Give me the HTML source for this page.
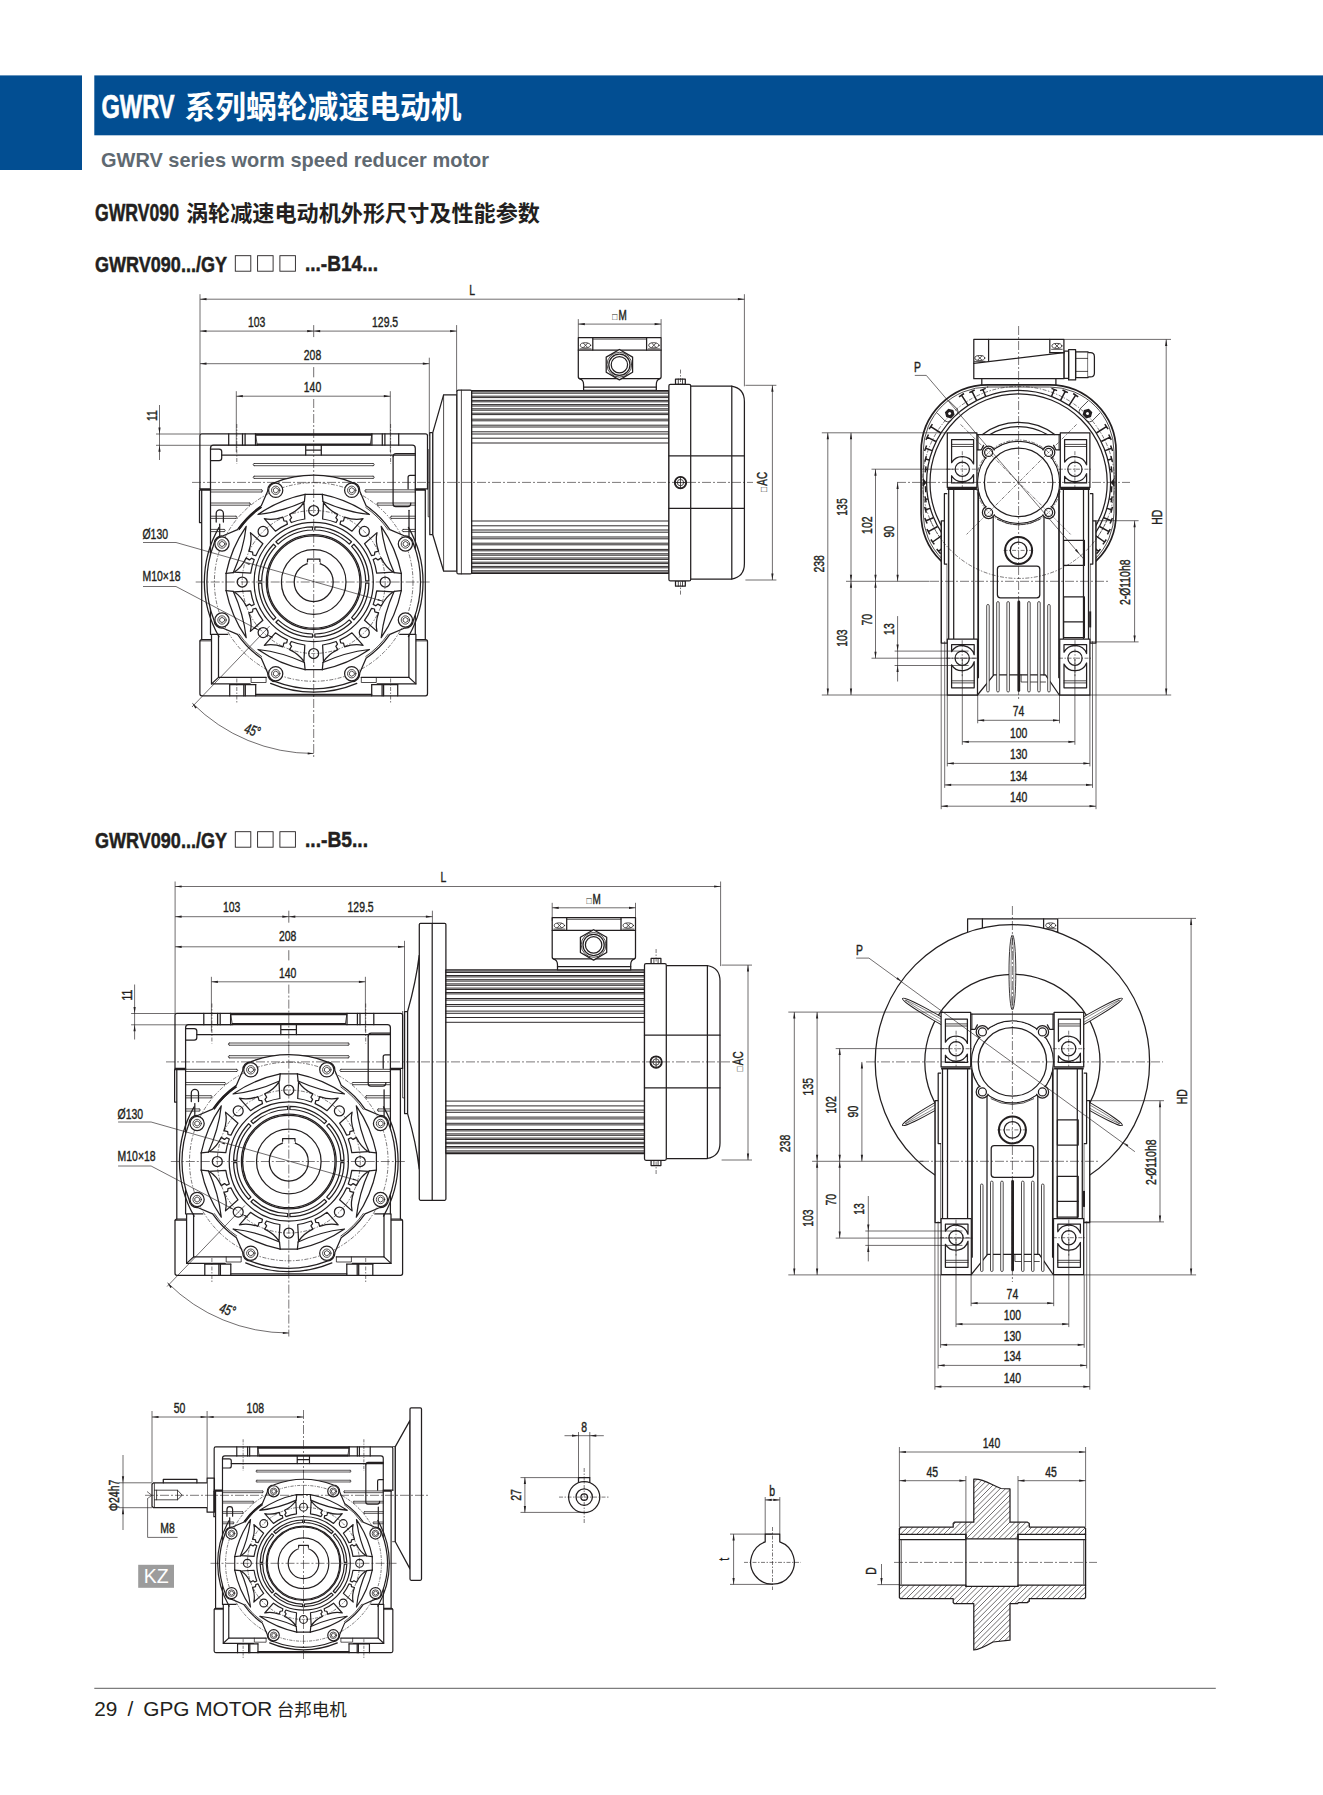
<!DOCTYPE html>
<html lang="zh"><head><meta charset="utf-8"><title>GWRV090</title>
<style>
html,body{margin:0;padding:0;background:#fff}
svg{display:block}
text{font-family:"Liberation Sans","Noto Sans CJK SC",sans-serif;fill:#231f20}
.o{fill:none;stroke:#231f20;stroke-width:1.25;stroke-linecap:round;stroke-linejoin:round}
.t{fill:none;stroke:#231f20;stroke-width:0.8;stroke-linecap:round;stroke-linejoin:round}
.k{fill:none;stroke:#231f20;stroke-width:2;stroke-linecap:butt;stroke-linejoin:round}
.d{fill:none;stroke:#231f20;stroke-width:0.65}
.c{fill:none;stroke:#231f20;stroke-width:0.6;stroke-dasharray:9 2 2 2}
.cs{fill:none;stroke:#231f20;stroke-width:0.6;stroke-dasharray:4 1.5 1.5 1.5}
.w{fill:#fff;stroke:#231f20;stroke-width:1.25;stroke-linejoin:round}
.a{fill:#231f20;stroke:none}
.dt{stroke:#231f20;stroke-width:0.4}
.g3 .o,.g3 .w{stroke-width:1.5}.g3 .t{stroke-width:0.95}.g3 .cs{stroke-width:0.75}.g3 .k{stroke-width:2.4}
</style></head><body>
<svg width="1323" height="1795" viewBox="0 0 1323 1795">

<rect x="0" y="75.4" width="82" height="94.6" fill="#024e92"/>
<rect x="94.3" y="75.4" width="1229" height="59.9" fill="#024e92"/>
<text x="101.5" y="118" font-size="33" font-weight="bold" fill="#fff" style="fill:#fff"><tspan textLength="73" lengthAdjust="spacingAndGlyphs" stroke="#fff" stroke-width="0.7">GWRV</tspan><tspan dx="10" font-size="30.5" textLength="277" lengthAdjust="spacingAndGlyphs">系列蜗轮减速电动机</tspan></text>
<text x="101" y="167" font-size="20.6" font-weight="bold" style="fill:#5f6971" textLength="388" lengthAdjust="spacingAndGlyphs">GWRV series worm speed reducer motor</text>
<text x="95" y="221" font-size="23" font-weight="bold"><tspan textLength="84" lengthAdjust="spacingAndGlyphs" stroke="#231f20" stroke-width="0.5">GWRV090</tspan><tspan dx="7" font-size="22" textLength="354" lengthAdjust="spacingAndGlyphs">涡轮减速电动机外形尺寸及性能参数</tspan></text>
<text x="95" y="271.5" font-size="22.5" font-weight="bold" stroke="#231f20" stroke-width="0.5"><tspan textLength="132" lengthAdjust="spacingAndGlyphs">GWRV090.../GY</tspan></text>
<rect x="235.3" y="255.7" width="15.5" height="15.5" fill="none" stroke="#231f20" stroke-width="0.9"/>
<rect x="257.6" y="255.7" width="15.5" height="15.5" fill="none" stroke="#231f20" stroke-width="0.9"/>
<rect x="279.9" y="255.7" width="15.5" height="15.5" fill="none" stroke="#231f20" stroke-width="0.9"/>
<text x="305" y="271" font-size="22.5" font-weight="bold" stroke="#231f20" stroke-width="0.5"><tspan textLength="73" lengthAdjust="spacingAndGlyphs">...-B14...</tspan></text>
<text x="95" y="847.5" font-size="22.5" font-weight="bold" stroke="#231f20" stroke-width="0.5"><tspan textLength="132" lengthAdjust="spacingAndGlyphs">GWRV090.../GY</tspan></text>
<rect x="235.3" y="831.7" width="15.5" height="15.5" fill="none" stroke="#231f20" stroke-width="0.9"/>
<rect x="257.6" y="831.7" width="15.5" height="15.5" fill="none" stroke="#231f20" stroke-width="0.9"/>
<rect x="279.9" y="831.7" width="15.5" height="15.5" fill="none" stroke="#231f20" stroke-width="0.9"/>
<text x="305" y="847" font-size="22.5" font-weight="bold" stroke="#231f20" stroke-width="0.5"><tspan textLength="63" lengthAdjust="spacingAndGlyphs">...-B5...</tspan></text>
<path class="t" d="M428.2 449.5V516.8H429.6"/><path class="w" d="M429.8 432.6H432.8V534.7H429.8Z"/><path class="w" d="M432.8 432.6L443.6 394.9H456.9V571H443.6L432.8 534.7Z"/><path class="t" d="M443.6 394.9V571"/><rect class="w" x="456.9" y="390.1" width="14.8" height="183.8" rx="1.5"/><path class="t" d="M461.4 390.1V573.9"/><rect class="w" x="471.7" y="390.6" width="197.2" height="182.8"/><path class="t" d="M471.7 391.8H668.9M471.7 572.2H668.9M471.7 393.2H668.9M471.7 570.8H668.9M471.7 396.2H668.9M471.7 567.8H668.9M471.7 397.6H668.9M471.7 566.4H668.9M471.7 400.4H668.9M471.7 563.6H668.9M471.7 401.8H668.9M471.7 562.2H668.9M471.7 404.6H668.9M471.7 559.4H668.9M471.7 406H668.9M471.7 558H668.9M471.7 408.8H668.9M471.7 555.2H668.9M471.7 410.2H668.9M471.7 553.8H668.9M471.7 413.2H668.9M471.7 550.8H668.9M471.7 414.6H668.9M471.7 549.4H668.9M471.7 419.2H668.9M471.7 544.8H668.9M471.7 420.8H668.9M471.7 543.2H668.9M471.7 425.2H668.9M471.7 538.8H668.9M471.7 427H668.9M471.7 537H668.9M471.7 431.8H668.9M471.7 532.2H668.9M471.7 434H668.9M471.7 530H668.9M471.7 438.2H668.9M471.7 525.8H668.9M471.7 443H668.9M471.7 521H668.9" style="stroke-width:0.95"/><path class="w" d="M579.3 378.7Q583.6 379.7 583.6 384.7V390.4H656.3V384.7Q656.3 379.7 660.1 378.7"/><path class="o" d="M583.6 387.2H656.3"/><path class="w" d="M578.3 337.5H661.1V376.7Q661.1 378.7 659.1 378.7H580.3Q578.3 378.7 578.3 376.7Z"/><path class="o" d="M592.8 337.5V350.1H578.3M646.6 337.5V350.1H661.1"/><path class="o" d="M592.8 350.1H646.6"/><path class="t" d="M592.8 339.1H646.6"/><ellipse class="t" cx="585.5" cy="345.3" rx="5.2" ry="2.6"/><path class="t" d="M580 348.9H591"/><path class="t" d="M583.5 343.3L587.5 347.3M587.5 343.3L583.5 347.3"/><ellipse class="t" cx="653.9" cy="345.3" rx="5.2" ry="2.6"/><path class="t" d="M648.4 348.9H659.4"/><path class="t" d="M651.9 343.3L655.9 347.3M655.9 343.3L651.9 347.3"/><path class="w" d="M619.4 349.5L606.2 357.1L606.2 372.3L619.4 379.9L632.6 372.3L632.6 357.1Z"/><circle class="t" cx="619.4" cy="364.7" r="12.4"/><circle class="o" cx="619.4" cy="364.7" r="10.6"/><circle class="o" cx="619.4" cy="364.7" r="8.2"/><rect class="w" x="675.5" y="379" width="9.8" height="5.3"/><path class="t" d="M678.3 384.3V379M682.5 384.3V379"/><rect class="w" x="675.5" y="580.9" width="9.8" height="5.3"/><path class="t" d="M678.3 580.9V586.2M682.5 580.9V586.2"/><path class="cs" d="M680.5 369.6V595.6"/><path class="w" d="M690.7 386.1H731.4Q744.4 388.1 744.4 401.6V563.6Q744.4 577.1 731.4 579.1H690.7"/><path class="o" d="M731.8 386.1V579.1"/><rect class="w" x="668.9" y="384.3" width="21.8" height="196.6" rx="1.5"/><path class="o" d="M668.9 455.8H744.4"/><path class="o" d="M668.9 508.4H744.4"/><circle class="w" cx="680.5" cy="482.6" r="6"/><circle class="o" cx="680.5" cy="482.6" r="5.4"/><circle class="t" cx="680.5" cy="482.6" r="3.2"/><path class="t" d="M675.5 482.6H685.5M680.5 477.6V487.6"/><g transform="translate(313.7 582)"><path class="o" d="M-113.8 -93.2V-146.2Q-113.8 -148.2 -111.8 -148.2H111.8Q113.8 -148.2 113.8 -146.2V-93.2"/><path class="o" d="M-103.2 52.4V-133.8Q-103.2 -136.8 -100.2 -136.8H98.6Q101.6 -136.8 101.6 -133.8V52.4"/><path class="o" d="M-113.8 -93.2H-103.2M-113.8 -91.8H-103.2M101.6 -93.2H113.8M101.6 -91.8H111.6"/><path class="o" d="M-114.2 -91.8V-59.4H-112M-112 -91.8V57.5"/><path class="o" d="M111.6 -91.8V57.5"/><path class="o" d="M-85 -148.2V-136.8"/><path class="o" d="M-71.2 -148.2V-136.8"/><path class="o" d="M-68.6 -148.2V-136.8"/><path class="o" d="M-58.2 -148.2V-136.8"/><path class="cs" d="M-76.9 -158V-118"/><path class="o" d="M85 -148.2V-136.8"/><path class="o" d="M71.2 -148.2V-136.8"/><path class="o" d="M68.6 -148.2V-136.8"/><path class="o" d="M58.2 -148.2V-136.8"/><path class="cs" d="M76.9 -158V-118"/><path class="k" d="M-58.2 -147.2H58.2M-57 -137.4H57"/><path class="t" d="M-58.2 -148.2L-56.5 -137M58.2 -148.2L56.5 -137"/><path class="o" d="M-103.2 -133H-94.6Q-92 -133 -92 -130.4V-124Q-92 -121.4 -94.6 -121.4H-103.2"/><path class="o" d="M-8 -136.8V-127M7.6 -136.8V-127M-8 -132H7.6"/><path class="o" d="M-92 -127H101.6"/><path class="o" d="M79.4 -125.5V-78Q79.4 -75.4 82 -75.4H94Q97.1 -75.4 97.1 -79"/><path class="o" d="M79.4 -125.5Q79.4 -128.5 82.4 -128.5H101.6"/><path class="o" d="M101.6 -106.7H96.4Q94.4 -106.7 94.4 -104.7V-93.2"/><path class="o" d="M95.3 -71.7V40"/><path class="o" d="M-97.5 -60V-68.5A3.6 3.6 0 0 1 -90.3 -68.5V-60"/><path class="o" d="M-94 -58V-45"/><path class="t" d="M0 -118.5H59.4 M0 -116.3H59.4"/><path class="t" d="M59.4 -118.5A1.1 1.1 0 0 1 59.4 -116.3"/><path class="t" d="M0 -118.5H-59.4 M0 -116.3H-59.4"/><path class="t" d="M-59.4 -118.5A1.1 1.1 0 0 0 -59.4 -116.3"/><path class="t" d="M0 -105.8H59.4 M0 -103.6H59.4"/><path class="t" d="M59.4 -105.8A1.1 1.1 0 0 1 59.4 -103.6"/><path class="t" d="M0 -105.8H-59.4 M0 -103.6H-59.4"/><path class="t" d="M-59.4 -105.8A1.1 1.1 0 0 0 -59.4 -103.6"/><path class="t" d="M-103.2 -92.2H-52.2 M-103.2 -90H-52.2"/><path class="t" d="M-52.2 -92.2A1.1 1.1 0 0 1 -52.2 -90"/><path class="t" d="M101.6 -92.2H52.2 M101.6 -90H52.2"/><path class="t" d="M52.2 -92.2A1.1 1.1 0 0 0 52.2 -90"/><path class="t" d="M-103.2 -79H-64.2 M-103.2 -76.8H-64.2"/><path class="t" d="M-64.2 -79A1.1 1.1 0 0 1 -64.2 -76.8"/><path class="t" d="M101.6 -79H64.2 M101.6 -76.8H64.2"/><path class="t" d="M64.2 -79A1.1 1.1 0 0 0 64.2 -76.8"/><path class="t" d="M-103.2 -65.8H-77.8 M-103.2 -63.6H-77.8"/><path class="t" d="M-77.8 -65.8A1.1 1.1 0 0 1 -77.8 -63.6"/><path class="t" d="M101.6 -65.8H77.8 M101.6 -63.6H77.8"/><path class="t" d="M77.8 -65.8A1.1 1.1 0 0 0 77.8 -63.6"/><path class="t" d="M-103.2 -52.6H-89.6 M-103.2 -50.4H-89.6"/><path class="t" d="M-89.6 -52.6A1.1 1.1 0 0 1 -89.6 -50.4"/><path class="t" d="M101.6 -52.6H89.6 M101.6 -50.4H89.6"/><path class="t" d="M89.6 -52.6A1.1 1.1 0 0 0 89.6 -50.4"/><path class="o" d="M-102.5 57.5H-111.8Q-113.8 57.5 -113.8 59.5V111.8Q-113.8 113.8 -111.8 113.8H0"/><path class="t" d="M-102.5 58.9H-113.8"/><path class="o" d="M-86 52.4H-102.2V101.9H-63.5"/><path class="o" d="M-95.2 52.4V95.4H-47.6"/><path class="o" d="M-95.2 95.4L-102.2 101.9"/><path class="t" d="M-47.6 95.4V100.5H-62.6V95.4"/><path class="o" d="M-58 102.6V113.8"/><path class="o" d="M-68.4 102.6V113.8"/><path class="o" d="M-69.9 102.6V113.8"/><path class="o" d="M-84 102.6V113.8"/><path class="o" d="M-58 102.6H-84"/><path class="cs" d="M-76.9 96.5V121.5"/><path class="o" d="M102.5 57.5H111.8Q113.8 57.5 113.8 59.5V111.8Q113.8 113.8 111.8 113.8H0"/><path class="t" d="M102.5 58.9H113.8"/><path class="o" d="M86 52.4H102.2V101.9H63.5"/><path class="o" d="M95.2 52.4V95.4H47.6"/><path class="o" d="M95.2 95.4L102.2 101.9"/><path class="t" d="M47.6 95.4V100.5H62.6V95.4"/><path class="o" d="M58 102.6V113.8"/><path class="o" d="M68.4 102.6V113.8"/><path class="o" d="M69.9 102.6V113.8"/><path class="o" d="M84 102.6V113.8"/><path class="o" d="M58 102.6H84"/><path class="cs" d="M76.9 96.5V121.5"/><path class="o" d="M-58 112.4H58"/><path class="o" d="M-94.7 -54.6A109.3 109.3 0 0 0 -94.7 54.7"/><path class="o" d="M94.7 54.6A109.3 109.3 0 0 0 94.7 -54.6"/><path class="o" d="M-43.1 101.4A110.2 110.2 0 0 0 43.1 101.4"/><path class="w" d="M76.2 52.4L91.1 46A8 8 0 0 0 99.7 38.3A106.6 106.6 0 0 0 99.7 -38.3A8 8 0 0 0 91.1 -46L76.2 -52.4A92.5 92.5 0 0 0 52.4 -76.2L46 -91.1A8 8 0 0 0 38.3 -99.7A106.6 106.6 0 0 0 -38.3 -99.7A8 8 0 0 0 -46 -91.1L-52.4 -76.2A92.5 92.5 0 0 0 -76.2 -52.4L-91.1 -46A8 8 0 0 0 -99.7 -38.3A106.6 106.6 0 0 0 -99.7 38.3A8 8 0 0 0 -91.1 46L-76.2 52.4A92.5 92.5 0 0 0 -52.4 76.2L-46 91.1A8 8 0 0 0 -38.3 99.7A106.6 106.6 0 0 0 38.3 99.7A8 8 0 0 0 46 91.1L52.4 76.2A92.5 92.5 0 0 0 76.2 52.4Z"/><path class="t" d="M74.5 -52.1A90.9 90.9 0 0 0 52.1 -74.5"/><path class="t" d="M-52.1 -74.5A90.9 90.9 0 0 0 -74.5 -52.1"/><path class="t" d="M-74.5 52.1A90.9 90.9 0 0 0 -52.1 74.5"/><path class="t" d="M52.1 74.5A90.9 90.9 0 0 0 74.5 52.1"/><path class="k" d="M-52.6 -75.1A91.7 91.7 0 0 0 -75.1 -52.6"/><circle class="cs" cx="0" cy="0" r="99.3"/><circle class="w" cx="91.7" cy="-38" r="7.1"/><circle class="t" cx="91.7" cy="-38" r="4.2"/><path class="t" d="M94 -39.3L91.7 -40.6L89.5 -39.3L89.5 -36.7L91.7 -35.4L94 -36.7Z"/><circle class="w" cx="38" cy="-91.7" r="7.1"/><circle class="t" cx="38" cy="-91.7" r="4.2"/><path class="t" d="M40.3 -93L38 -94.3L35.7 -93L35.7 -90.4L38 -89.1L40.3 -90.4Z"/><circle class="w" cx="-38" cy="-91.7" r="7.1"/><circle class="t" cx="-38" cy="-91.7" r="4.2"/><path class="t" d="M-35.7 -93L-38 -94.3L-40.3 -93L-40.3 -90.4L-38 -89.1L-35.7 -90.4Z"/><circle class="w" cx="-91.7" cy="-38" r="7.1"/><circle class="t" cx="-91.7" cy="-38" r="4.2"/><path class="t" d="M-89.5 -39.3L-91.7 -40.6L-94 -39.3L-94 -36.7L-91.7 -35.4L-89.5 -36.7Z"/><circle class="w" cx="-91.7" cy="38" r="7.1"/><circle class="t" cx="-91.7" cy="38" r="4.2"/><path class="t" d="M-89.5 36.7L-91.7 35.4L-94 36.7L-94 39.3L-91.7 40.6L-89.5 39.3Z"/><circle class="w" cx="-38" cy="91.7" r="7.1"/><circle class="t" cx="-38" cy="91.7" r="4.2"/><path class="t" d="M-35.7 90.4L-38 89.1L-40.3 90.4L-40.3 93L-38 94.3L-35.7 93Z"/><circle class="w" cx="38" cy="91.7" r="7.1"/><circle class="t" cx="38" cy="91.7" r="4.2"/><path class="t" d="M40.3 90.4L38 89.1L35.7 90.4L35.7 93L38 94.3L40.3 93Z"/><circle class="w" cx="91.7" cy="38" r="7.1"/><circle class="t" cx="91.7" cy="38" r="4.2"/><path class="t" d="M94 36.7L91.7 35.4L89.5 36.7L89.5 39.3L91.7 40.6L94 39.3Z"/><circle class="o" cx="0" cy="0" r="19.5"/><path class="w" d="M-6.2 -18.5V-22.8H6.2V-18.5"/><path class="" d="M-6.1 -18.6A19.5 19.5 0 0 1 6.1 -18.6" style="stroke:#fff;stroke-width:2.4;fill:none"/><circle class="o" cx="0" cy="0" r="32.3"/><circle class="o" cx="0" cy="0" r="46.2"/><circle class="o" cx="0" cy="0" r="47.4"/><circle class="o" cx="0" cy="0" r="59.6"/><path class="o" d="M52 -1.1A52 52 0 0 0 37.9 -35.6L40.2 -37.8A55.2 55.2 0 0 1 55.2 -1.2Z"/><path class="o" d="M35.6 -37.9A52 52 0 0 0 1.1 -52L1.2 -55.2A55.2 55.2 0 0 1 37.8 -40.2Z"/><path class="o" d="M-1.1 -52A52 52 0 0 0 -35.6 -37.9L-37.8 -40.2A55.2 55.2 0 0 1 -1.2 -55.2Z"/><path class="o" d="M-37.9 -35.6A52 52 0 0 0 -52 -1.1L-55.2 -1.2A55.2 55.2 0 0 1 -40.2 -37.8Z"/><path class="o" d="M-52 1.1A52 52 0 0 0 -37.9 35.6L-40.2 37.8A55.2 55.2 0 0 1 -55.2 1.2Z"/><path class="o" d="M-35.6 37.9A52 52 0 0 0 -1.1 52L-1.2 55.2A55.2 55.2 0 0 1 -37.8 40.2Z"/><path class="o" d="M1.1 52A52 52 0 0 0 35.6 37.9L37.8 40.2A55.2 55.2 0 0 1 1.2 55.2Z"/><path class="o" d="M37.9 35.6A52 52 0 0 0 52 1.1L55.2 1.2A55.2 55.2 0 0 1 40.2 37.8Z"/><circle class="o" cx="71.5" cy="0" r="5"/><circle class="o" cx="50.6" cy="-50.6" r="5"/><circle class="o" cx="0" cy="-71.5" r="5"/><circle class="o" cx="-50.6" cy="-50.6" r="5"/><circle class="o" cx="-71.5" cy="0" r="5"/><circle class="o" cx="-50.6" cy="50.6" r="5"/><circle class="o" cx="0" cy="71.5" r="5"/><circle class="o" cx="50.6" cy="50.6" r="5"/><path class="o" d="M79.7 -9.8Q72 -14.7 67.6 -24.1L64.3 -22.1L62.1 -23.8L59.5 -22.4A63.6 63.6 0 0 1 63 -8.9Z"/><path class="o" d="M79.7 9.8Q72 14.7 67.6 24.1L64.3 22.1L62.1 23.8L59.5 22.4A63.6 63.6 0 0 0 63 8.9Z"/><path class="o" d="M49.4 -63.3Q40.6 -61.3 30.8 -64.9L29.8 -61.1L27 -60.8L26.3 -57.9A63.6 63.6 0 0 1 38.3 -50.8Z"/><path class="o" d="M63.3 -49.4Q61.3 -40.6 64.9 -30.8L61.1 -29.8L60.8 -27L57.9 -26.3A63.6 63.6 0 0 0 50.8 -38.3Z"/><path class="o" d="M-9.8 -79.7Q-14.7 -72 -24.1 -67.6L-22.1 -64.3L-23.8 -62.1L-22.4 -59.5A63.6 63.6 0 0 1 -8.9 -63Z"/><path class="o" d="M9.8 -79.7Q14.7 -72 24.1 -67.6L22.1 -64.3L23.8 -62.1L22.4 -59.5A63.6 63.6 0 0 0 8.9 -63Z"/><path class="o" d="M-63.3 -49.4Q-61.3 -40.6 -64.9 -30.8L-61.1 -29.8L-60.8 -27L-57.9 -26.3A63.6 63.6 0 0 1 -50.8 -38.3Z"/><path class="o" d="M-49.4 -63.3Q-40.6 -61.3 -30.8 -64.9L-29.8 -61.1L-27 -60.8L-26.3 -57.9A63.6 63.6 0 0 0 -38.3 -50.8Z"/><path class="o" d="M-79.7 9.8Q-72 14.7 -67.6 24.1L-64.3 22.1L-62.1 23.8L-59.5 22.4A63.6 63.6 0 0 1 -63 8.9Z"/><path class="o" d="M-79.7 -9.8Q-72 -14.7 -67.6 -24.1L-64.3 -22.1L-62.1 -23.8L-59.5 -22.4A63.6 63.6 0 0 0 -63 -8.9Z"/><path class="o" d="M-49.4 63.3Q-40.6 61.3 -30.8 64.9L-29.8 61.1L-27 60.8L-26.3 57.9A63.6 63.6 0 0 1 -38.3 50.8Z"/><path class="o" d="M-63.3 49.4Q-61.3 40.6 -64.9 30.8L-61.1 29.8L-60.8 27L-57.9 26.3A63.6 63.6 0 0 0 -50.8 38.3Z"/><path class="o" d="M9.8 79.7Q14.7 72 24.1 67.6L22.1 64.3L23.8 62.1L22.4 59.5A63.6 63.6 0 0 1 8.9 63Z"/><path class="o" d="M-9.8 79.7Q-14.7 72 -24.1 67.6L-22.1 64.3L-23.8 62.1L-22.4 59.5A63.6 63.6 0 0 0 -8.9 63Z"/><path class="o" d="M63.3 49.4Q61.3 40.6 64.9 30.8L61.1 29.8L60.8 27L57.9 26.3A63.6 63.6 0 0 1 50.8 38.3Z"/><path class="o" d="M49.4 63.3Q40.6 61.3 30.8 64.9L29.8 61.1L27 60.8L26.3 57.9A63.6 63.6 0 0 0 38.3 50.8Z"/><path class="o" d="M87.6 -8.6L87.6 8.6"/><path class="o" d="M87.6 -8.6L80.5 -9.3"/><path class="o" d="M87.6 -8.6Q82.4 -34.1 67.5 -55.7Q70.3 -31.3 80.5 -9.3"/><path class="o" d="M87.6 8.6L80.5 9.3"/><path class="o" d="M87.6 8.6Q82.4 34.1 67.5 55.7Q70.3 31.3 80.5 9.3"/><path class="o" d="M-8.6 -87.6L8.6 -87.6"/><path class="o" d="M-8.6 -87.6L-9.3 -80.5"/><path class="o" d="M-8.6 -87.6Q-34.1 -82.4 -55.7 -67.5Q-31.3 -70.3 -9.3 -80.5"/><path class="o" d="M8.6 -87.6L9.3 -80.5"/><path class="o" d="M8.6 -87.6Q34.1 -82.4 55.7 -67.5Q31.3 -70.3 9.3 -80.5"/><path class="o" d="M-87.6 8.6L-87.6 -8.6"/><path class="o" d="M-87.6 8.6L-80.5 9.3"/><path class="o" d="M-87.6 8.6Q-82.4 34.1 -67.5 55.7Q-70.3 31.3 -80.5 9.3"/><path class="o" d="M-87.6 -8.6L-80.5 -9.3"/><path class="o" d="M-87.6 -8.6Q-82.4 -34.1 -67.5 -55.7Q-70.3 -31.3 -80.5 -9.3"/><path class="o" d="M8.6 87.6L-8.6 87.6"/><path class="o" d="M8.6 87.6L9.3 80.5"/><path class="o" d="M8.6 87.6Q34.1 82.4 55.7 67.5Q31.3 70.3 9.3 80.5"/><path class="o" d="M-8.6 87.6L-9.3 80.5"/><path class="o" d="M-8.6 87.6Q-34.1 82.4 -55.7 67.5Q-31.3 70.3 -9.3 80.5"/><circle class="cs" cx="0" cy="0" r="71.5"/></g><path class="c" d="M192 482.4H753"/><path class="c" d="M195.7 582H431.7"/><path class="c" d="M313.7 399V757"/><path class="d" d="M313.7 367.1V377.3"/><path class="d" d="M200 294.2V434"/><path class="d" d="M744.4 294.2V386.3"/><path class="d" d="M200 299.2H744.4"/><path class="a" d="M200 299.2L206.5 298.1L206.5 300.3Z"/><path class="a" d="M744.4 299.2L737.9 300.3L737.9 298.1Z"/><text class="dt" transform="translate(472.2 294.5) scale(0.72 1)" font-size="14.5" text-anchor="middle">L</text><path class="d" d="M200 331.1H313.7"/><path class="a" d="M200 331.1L206.5 330L206.5 332.2Z"/><path class="a" d="M313.7 331.1L307.2 332.2L307.2 330Z"/><text class="dt" transform="translate(256.6 326.7) scale(0.72 1)" font-size="14.5" text-anchor="middle">103</text><path class="d" d="M313.7 331.1H456.6"/><path class="a" d="M313.7 331.1L320.2 330L320.2 332.2Z"/><path class="a" d="M456.6 331.1L450.1 332.2L450.1 330Z"/><text class="dt" transform="translate(385.1 326.7) scale(0.72 1)" font-size="14.5" text-anchor="middle">129.5</text><path class="d" d="M313.7 325.1V337.1"/><path class="d" d="M456.6 325.1V392"/><path class="d" d="M200 363.7H429.3"/><path class="a" d="M200 363.7L206.5 362.6L206.5 364.8Z"/><path class="a" d="M429.3 363.7L422.8 364.8L422.8 362.6Z"/><text class="dt" transform="translate(312.5 360.4) scale(0.72 1)" font-size="14.5" text-anchor="middle">208</text><path class="d" d="M429.3 357.7V436"/><path class="d" d="M236.3 396.2H390.3"/><path class="a" d="M236.3 396.2L242.8 395.1L242.8 397.3Z"/><path class="a" d="M390.3 396.2L383.8 397.3L383.8 395.1Z"/><text class="dt" transform="translate(312.5 392) scale(0.72 1)" font-size="14.5" text-anchor="middle">140</text><path class="d" d="M236.3 391.2V452"/><path class="d" d="M390.3 391.2V452"/><path class="d" d="M159.5 405V460"/><path class="a" d="M159.5 434L158.4 427.5L160.6 427.5Z"/><path class="a" d="M159.5 445.3L160.6 451.8L158.4 451.8Z"/><path class="d" d="M156 434H200"/><path class="d" d="M156 445.3H258"/><text class="dt" transform="translate(156.5 415.5) rotate(-90) scale(0.72 1)" font-size="14.5" text-anchor="middle">11</text><path class="d" d="M578.3 324.1H661.1"/><path class="a" d="M578.3 324.1L584.8 323L584.8 325.2Z"/><path class="a" d="M661.1 324.1L654.6 325.2L654.6 323Z"/><path class="d" d="M578.3 319.1V337.1"/><path class="d" d="M661.1 319.1V337.1"/><g transform="translate(619.4 319.8)"><text x="-8" y="0" font-size="9.5" transform="scale(0.9 1.08)">□</text><text class="dt" transform="translate(-1 0) scale(0.72 1)" font-size="13.8">M</text></g><path class="d" d="M772.4 385.3V580"/><path class="a" d="M772.4 385.3L773.5 391.8L771.3 391.8Z"/><path class="a" d="M772.4 580L771.3 573.5L773.5 573.5Z"/><path class="d" d="M745.4 385.3H776.4"/><path class="d" d="M745.4 580H776.4"/><g transform="translate(767.4 481.9) rotate(-90)"><text x="-11.1" y="0" font-size="9.5" transform="scale(0.9 1.08)">□</text><text class="dt" transform="translate(-3.8 0) scale(0.72 1)" font-size="13.8">AC</text></g><text class="dt" transform="translate(142.5 539) scale(0.72 1)" font-size="14.5" text-anchor="start">Ø130</text><path class="d" d="M143 542.5H176L382.6 601.1"/><path class="a" d="M382.6 601.1L377.5 600.6L378 598.9Z"/><path class="a" d="M244.8 562.9L249.9 563.4L249.4 565.1Z"/><text class="dt" transform="translate(142.5 581) scale(0.72 1)" font-size="14.5" text-anchor="start">M10×18</text><path class="d" d="M143 586.5H176L258.6 630"/><path class="a" d="M258.6 630L253.8 628.4L254.6 626.9Z"/><path class="a" d="M267.6 635L272.4 636.6L271.6 638.1Z"/><path class="d" d="M267.6 635L273 638"/><path class="d" d="M269.7 626L192 707"/><path class="d" d="M192.4 703.3A171.5 171.5 0 0 0 313.7 753.5"/><path class="a" d="M313.7 753.5L307.7 754.5L307.7 752.5Z"/><path class="a" d="M192.4 703.3L196.9 707.4L195.3 708.6Z"/><text class="dt" transform="translate(251 735) rotate(17) scale(0.72 1)" font-size="14.5" text-anchor="middle" font-style="italic">45°</text><g transform="translate(1018.6 482.4)"><path class="w" d="M-36.8 -103.7V-96Q-36.8 -92 -33 -92H33Q37.3 -92 37.3 -96V-103.7"/><path class="t" d="M-36.8 -95.7H37.3"/><rect class="w" x="57" y="-130.5" width="12.5" height="25.7"/><path class="t" d="M57 -124H69.5"/><path class="t" d="M57 -111H69.5"/><rect class="w" x="50" y="-132.7" width="7" height="30.2"/><rect class="w" x="45.3" y="-131.2" width="4.7" height="27.2"/><path class="w" d="M69.5 -129.7H71.8Q75.8 -129.7 75.8 -125.7V-109.5Q75.8 -105.5 71.8 -105.5H69.5"/><rect class="w" x="-44.8" y="-143" width="90.1" height="39.3"/><path class="o" d="M-30 -143V-121.8"/><path class="o" d="M31.2 -143V-129.7"/><path class="o" d="M31.2 -129.7H45.3"/><path class="o" d="M-44.8 -119.1L45.3 -129.7"/><ellipse class="t" cx="-38.8" cy="-124.4" rx="5" ry="2.5"/><path class="t" d="M-44.1 -121H-33.5"/><path class="t" d="M-40.8 -126.4L-36.8 -122.4M-36.8 -126.4L-40.8 -122.4"/><ellipse class="t" cx="38.3" cy="-136.5" rx="5" ry="2.5"/><path class="t" d="M33 -133.1H43.6"/><path class="t" d="M36.3 -138.5L40.3 -134.5M40.3 -138.5L36.3 -134.5"/><path class="w" d="M-31 -97.5H31A66.5 66.5 0 0 1 97.5 -31V31A66.5 66.5 0 0 1 31 97.5H-31A66.5 66.5 0 0 1 -97.5 31V-31A66.5 66.5 0 0 1 -31 -97.5Z" style="stroke-width:1.7"/><path class="t" d="M-30.9 -95.4H30.9A64.5 64.5 0 0 1 95.4 -30.9V30.9A64.5 64.5 0 0 1 30.9 95.4H-30.9A64.5 64.5 0 0 1 -95.4 30.9V-30.9A64.5 64.5 0 0 1 -30.9 -95.4Z"/><circle class="o" cx="0" cy="0" r="92"/><circle class="o" cx="0" cy="0" r="88.6"/><path class="o" d="M-38.5 -91.8L-32.9 -94M-35.7 -92.9L-33 -86.1M32.9 -94L38.5 -91.8M35.7 -92.9L33 -86.1M-49.3 -89.7L-43.9 -92.4M-46.6 -91L-42 -82.1M43.9 -92.4L49.3 -89.7M46.6 -91L42 -82.1M-59.6 -85.6L-54.6 -88.9M-57.1 -87.2L-50.5 -77.1M54.6 -88.9L59.6 -85.6M57.1 -87.2L50.5 -77.1M-89.5 -53.2L-86.2 -58.3M-87.8 -55.7L-77.8 -49.4M86.2 -58.3L89.5 -53.2M87.8 -55.7L77.8 -49.4M-92.7 -42.5L-90.1 -47.9M-91.4 -45.2L-82.7 -40.9M90.1 -47.9L92.7 -42.5M91.4 -45.2L82.7 -40.9M-94 -31.4L-92 -37M-93 -34.2L-86.5 -31.8M92 -37L94 -31.4M93 -34.2L86.5 -31.8M-93.8 -20.5L-92.3 -26.3M-93.1 -23.4L-89.4 -22.5M92.3 -26.3L93.8 -20.5M93.1 -23.4L89.4 -22.5M-93.4 -10.1L-92.6 -16M-93 -13.1L-91.3 -12.8M92.6 -16L93.4 -10.1M93 -13.1L91.3 -12.8M-92.8 9.8L-93.2 3.8M-93 6.8L-92 6.8M93.2 3.8L92.8 9.8M93 6.8L92 6.8M-92.5 19.9L-93.6 14M-93 16.9L-90.7 16.5M93.6 14L92.5 19.9M93 16.9L90.7 16.5M-92.3 30.3L-93.9 24.5M-93.1 27.4L-88.4 26M93.9 24.5L92.3 30.3M93.1 27.4L88.4 26M-91.5 41.1L-93.8 35.6M-92.6 38.4L-85.2 35.3M93.8 35.6L91.5 41.1M92.6 38.4L85.2 35.3M-88.8 51.9L-91.7 46.6M-90.3 49.2L-81 44.1M91.7 46.6L88.8 51.9M90.3 49.2L81 44.1M-84.3 62L-87.7 57.1M-86 59.6L-75.8 52.5M87.7 57.1L84.3 62M86 59.6L75.8 52.5M-78 71.3L-81.9 66.7M-79.9 69L-69.8 60.2M81.9 66.7L78 71.3M79.9 69L69.8 60.2" style="stroke-width:1.5;stroke-linecap:butt"/><path class="t" d="M81.2 -69.2L73.5 -61.4Q71 -59 67.6 -61.9M69.2 -81.2L61.4 -73.5Q59 -71 61.9 -67.6"/><path d="M70.2 -73.7L65.3 -72.4L64 -67.6L67.6 -64L72.4 -65.3L73.7 -70.2Z" fill="#231f20"/><circle fill="#fff" cx="68.9" cy="-68.9" r="1.5"/><path class="t" d="M-69.2 -81.2L-61.4 -73.5Q-59 -71 -61.9 -67.6M-81.2 -69.2L-73.5 -61.4Q-71 -59 -67.6 -61.9"/><path d="M-73.7 -70.2L-72.4 -65.3L-67.6 -64L-64 -67.6L-65.3 -72.4L-70.2 -73.7Z" fill="#231f20"/><circle fill="#fff" cx="-68.9" cy="-68.9" r="1.5"/><path d="M-95.6 -4.5L-92 0L-95.6 4.5Z" fill="#231f20"/><path d="M95.6 -4.5L92 0L95.6 4.5Z" fill="#231f20"/><circle class="cs" cx="0" cy="0" r="96"/><rect class="w" x="-77.3" y="38.6" width="6" height="122"/><rect class="w" x="-74.2" y="11.3" width="3.8" height="70.3"/><rect class="w" x="71.3" y="38.6" width="6" height="122"/><rect class="w" x="70.4" y="11.3" width="3.8" height="70.3"/><path class="" d="M-71.3 5H71.3V160H-71.3Z" style="fill:#fff;stroke:none"/><path class="o" d="M-69.9 7V157M-64.9 7V157M-44.8 7V157"/><path class="o" d="M-40.4 7V195" style="stroke-width:1.7"/><path class="o" d="M-25.4 33V192.5"/><path class="o" d="M69.9 7V157M64.9 7V157M44.8 7V157"/><path class="o" d="M40.4 7V195" style="stroke-width:1.7"/><path class="o" d="M25.4 33V192.5"/><rect class="o" x="45" y="58" width="20.8" height="25.1"/><rect class="o" x="45" y="114.4" width="20.8" height="40.8"/><path class="o" d="M45 139.4H65.8"/><path class="k" d="M71.6 129V145"/><path class="" d="M-41.7 -47.9H41.7V-32.6H37.1L30 -15L0 0L-30 -15L-37.1 -32.6H-41.7Z" style="fill:#fff;stroke:none"/><path class="o" d="M-36.1 -47.9A60 60 0 0 1 36.1 -47.9"/><path class="o" d="M-28.6 -47.9A55.8 55.8 0 0 1 28.6 -47.9"/><path class="o" d="M-41.7 -47.9H41.7"/><circle class="w" cx="0" cy="0" r="41"/><path class="t" d="M21.3 36.9A42.6 42.6 0 0 1 -21.3 36.9"/><circle class="w" cx="-30" cy="-30" r="6.2"/><circle class="w" cx="-30" cy="30" r="6.2"/><circle class="w" cx="30" cy="-30" r="6.2"/><circle class="w" cx="30" cy="30" r="6.2"/><circle style="fill:#fff;stroke:none" cx="0" cy="0" r="40.2"/><circle class="o" cx="-30" cy="-30" r="4"/><circle class="o" cx="-30" cy="30" r="4"/><circle class="o" cx="30" cy="-30" r="4"/><circle class="o" cx="30" cy="30" r="4"/><path class="o" d="M-41.7 -47.9V-32.6H-37.3L-35 -37"/><path class="t" d="M-40.4 -47.9V-32.6"/><path class="o" d="M41.7 -47.9V-32.6H37.3L35 -37"/><path class="t" d="M40.4 -47.9V-32.6"/><circle class="o" cx="0" cy="0" r="34.2"/><circle class="cs" cx="0" cy="0" r="42.4"/><circle class="k" cx="0" cy="68" r="13.5"/><circle class="o" cx="0" cy="68" r="8.3"/><path class="cs" d="M-15 68H15"/><rect class="o" x="-21.2" y="83.8" width="42.4" height="31.6" rx="3"/><rect class="w" x="-71.3" y="-49.6" width="29.6" height="54.6"/><path class="o" d="M-67 -19.7V-42.9H-45V-18.5A12.5 12.5 0 0 0 -67 -19.7Z"/><path class="o" d="M-67 -6.7V0.5H-45V-7.9A12.5 12.5 0 0 1 -67 -6.7Z"/><path class="t" d="M-67 -38H-45"/><path class="t" d="M-67 -35.9H-45"/><circle class="o" cx="-56.3" cy="-13.2" r="7.1"/><path class="cs" d="M-72.3 -13.2H-40.3"/><path class="cs" d="M-56.3 -31.2V4.8"/><rect class="w" x="41.7" y="-49.6" width="29.6" height="54.6"/><path class="o" d="M46 -20.3V-42.9H68V-17.6A12.5 12.5 0 0 0 46 -20.3Z"/><path class="o" d="M46 -6.1V0.5H68V-8.8A12.5 12.5 0 0 1 46 -6.1Z"/><path class="t" d="M46 -38H68"/><path class="t" d="M46 -35.9H68"/><circle class="o" cx="56.3" cy="-13.2" r="7.1"/><path class="cs" d="M40.3 -13.2H72.3"/><path class="cs" d="M56.3 -31.2V4.8"/><path class="k" d="M-71.3 6.6H-41.7M41.7 6.6H71.3"/><rect class="w" x="-71.3" y="156.6" width="30.2" height="56"/><path class="o" d="M-67 169.2V162.3H-44.4V172.3A12.5 12.5 0 0 0 -67 169.2Z"/><path class="o" d="M-67 182.4V205.4H-44.4V179.3A12.5 12.5 0 0 1 -67 182.4Z"/><path class="t" d="M-67 200.5H-44.4"/><path class="t" d="M-67 198.4H-44.4"/><circle class="o" cx="-56.4" cy="175.8" r="7.1"/><path class="cs" d="M-72.4 175.8H-40.4"/><path class="cs" d="M-56.4 157.8V193.8"/><rect class="w" x="41.1" y="156.6" width="30.2" height="56"/><path class="o" d="M45.4 169.9V162.3H68V171.1A12.5 12.5 0 0 0 45.4 169.9Z"/><path class="o" d="M45.4 181.7V205.4H68V180.5A12.5 12.5 0 0 1 45.4 181.7Z"/><path class="t" d="M45.4 200.5H68"/><path class="t" d="M45.4 198.4H68"/><circle class="o" cx="56.4" cy="175.8" r="7.1"/><path class="cs" d="M40.4 175.8H72.4"/><path class="cs" d="M56.4 157.8V193.8"/><path class="o" d="M-41.1 212.6L-24.8 192.5H26.9L40.7 212.6"/><path class="t" d="M2.5 192.5V199.6H26.9"/><rect class="w" x="-31.9" y="122.1" width="2.5" height="87.5" rx="1.25" style="stroke-width:0.8"/><rect class="w" x="-21.9" y="119.2" width="2.5" height="90.4" rx="1.25" style="stroke-width:0.8"/><rect class="w" x="-11.7" y="119.2" width="2.5" height="90.4" rx="1.25" style="stroke-width:0.8"/><rect x="-1.2" y="118.2" width="2.8" height="91.4" rx="1.4" fill="#231f20"/><rect class="w" x="9.1" y="119.2" width="2.5" height="90.4" rx="1.25" style="stroke-width:0.8"/><rect class="w" x="19.1" y="119.2" width="2.5" height="90.4" rx="1.25" style="stroke-width:0.8"/><rect class="w" x="29.1" y="122.1" width="2.5" height="87.5" rx="1.25" style="stroke-width:0.8"/><path class="cs" d="M-88.4 37.5A96 96 0 0 0 88.4 37.5"/><path class="cs" d="M-58 -58L52 52"/><path class="cs" d="M58 -58L-52 52"/></g><path class="c" d="M897 482.4H1130"/><path class="c" d="M1018.6 326V700"/><path class="c" d="M930 581.3H1110"/><path class="d" d="M821.8 432.8H947.3"/><path class="d" d="M821.8 695H1171.2"/><path class="d" d="M846 581.3H929.6"/><path class="d" d="M871.5 469.2H954.6"/><path class="d" d="M871.5 658.2H978.6"/><path class="d" d="M827.8 432.8V695"/><path class="a" d="M827.8 432.8L828.9 439.3L826.7 439.3Z"/><path class="a" d="M827.8 695L826.7 688.5L828.9 688.5Z"/><text class="dt" transform="translate(823.8 563.9) rotate(-90) scale(0.72 1)" font-size="14.5" text-anchor="middle">238</text><path class="d" d="M851 432.8V581.3"/><path class="a" d="M851 432.8L852.1 439.3L849.9 439.3Z"/><path class="a" d="M851 581.3L849.9 574.8L852.1 574.8Z"/><text class="dt" transform="translate(847 507) rotate(-90) scale(0.72 1)" font-size="14.5" text-anchor="middle">135</text><path class="d" d="M851 581.3V695"/><path class="a" d="M851 581.3L852.1 587.8L849.9 587.8Z"/><path class="a" d="M851 695L849.9 688.5L852.1 688.5Z"/><text class="dt" transform="translate(847 638.1) rotate(-90) scale(0.72 1)" font-size="14.5" text-anchor="middle">103</text><path class="d" d="M875.5 469.2V581.3"/><path class="a" d="M875.5 469.2L876.6 475.7L874.4 475.7Z"/><path class="a" d="M875.5 581.3L874.4 574.8L876.6 574.8Z"/><text class="dt" transform="translate(871.5 525.2) rotate(-90) scale(0.72 1)" font-size="14.5" text-anchor="middle">102</text><path class="d" d="M875.5 581.3V658.2"/><path class="a" d="M875.5 581.3L876.6 587.8L874.4 587.8Z"/><path class="a" d="M875.5 658.2L874.4 651.7L876.6 651.7Z"/><text class="dt" transform="translate(871.5 619.8) rotate(-90) scale(0.72 1)" font-size="14.5" text-anchor="middle">70</text><path class="d" d="M897.6 482.4V581.3"/><path class="a" d="M897.6 482.4L898.7 488.9L896.5 488.9Z"/><path class="a" d="M897.6 581.3L896.5 574.8L898.7 574.8Z"/><text class="dt" transform="translate(893.6 531.8) rotate(-90) scale(0.72 1)" font-size="14.5" text-anchor="middle">90</text><path class="d" d="M894.6 651.1H968.6"/><path class="d" d="M894.6 665.5H968.6"/><path class="d" d="M897.6 616.1V681.5"/><path class="a" d="M897.6 651.1L896.5 644.6L898.7 644.6Z"/><path class="a" d="M897.6 665.5L898.7 672L896.5 672Z"/><text class="dt" transform="translate(893.6 629.1) rotate(-90) scale(0.72 1)" font-size="14.5" text-anchor="middle">13</text><path class="d" d="M977.7 720.3H1059.5"/><path class="a" d="M977.7 720.3L984.2 719.2L984.2 721.4Z"/><path class="a" d="M1059.5 720.3L1053 721.4L1053 719.2Z"/><text class="dt" transform="translate(1018.6 716.1) scale(0.72 1)" font-size="14.5" text-anchor="middle">74</text><path class="d" d="M977.7 695V723.3"/><path class="d" d="M1059.5 695V723.3"/><path class="d" d="M962.3 741.8H1074.9"/><path class="a" d="M962.3 741.8L968.8 740.7L968.8 742.9Z"/><path class="a" d="M1074.9 741.8L1068.4 742.9L1068.4 740.7Z"/><text class="dt" transform="translate(1018.6 737.6) scale(0.72 1)" font-size="14.5" text-anchor="middle">100</text><path class="d" d="M962.3 659V744.8"/><path class="d" d="M1074.9 659V744.8"/><path class="d" d="M947.3 763.4H1089.9"/><path class="a" d="M947.3 763.4L953.8 762.3L953.8 764.5Z"/><path class="a" d="M1089.9 763.4L1083.4 764.5L1083.4 762.3Z"/><text class="dt" transform="translate(1018.6 759.2) scale(0.72 1)" font-size="14.5" text-anchor="middle">130</text><path class="d" d="M947.3 695V766.4"/><path class="d" d="M1089.9 695V766.4"/><path class="d" d="M944.7 784.9H1092.5"/><path class="a" d="M944.7 784.9L951.2 783.8L951.2 786Z"/><path class="a" d="M1092.5 784.9L1086 786L1086 783.8Z"/><text class="dt" transform="translate(1018.6 780.7) scale(0.72 1)" font-size="14.5" text-anchor="middle">134</text><path class="d" d="M944.7 641.3V787.9"/><path class="d" d="M1092.5 641.3V787.9"/><path class="d" d="M941.2 806.2H1096"/><path class="a" d="M941.2 806.2L947.7 805.1L947.7 807.3Z"/><path class="a" d="M1096 806.2L1089.5 807.3L1089.5 805.1Z"/><text class="dt" transform="translate(1018.6 802) scale(0.72 1)" font-size="14.5" text-anchor="middle">140</text><path class="d" d="M941.2 521.3V809.2"/><path class="d" d="M1096 521.3V809.2"/><path class="d" d="M1166.2 339.4V695"/><path class="a" d="M1166.2 339.4L1167.3 345.9L1165.1 345.9Z"/><path class="a" d="M1166.2 695L1165.1 688.5L1167.3 688.5Z"/><text class="dt" transform="translate(1161.7 517.2) rotate(-90) scale(0.72 1)" font-size="14.5" text-anchor="middle">HD</text><path class="d" d="M1134.6 520.7V641.9"/><path class="a" d="M1134.6 520.7L1135.7 527.2L1133.5 527.2Z"/><path class="a" d="M1134.6 641.9L1133.5 635.4L1135.7 635.4Z"/><path class="d" d="M1095.6 520.7H1138.6"/><path class="d" d="M1090.6 641.9H1138.6"/><text class="dt" transform="translate(1130.1 582.3) rotate(-90) scale(0.72 1)" font-size="14.5" text-anchor="middle">2-Ø110h8</text><path class="d" d="M1064 339.4H1171"/><text class="dt" transform="translate(917.5 372) scale(0.72 1)" font-size="14.5" text-anchor="middle">P</text><path class="d" d="M914.8 375.4H926.3L1084.4 559.8"/><path class="a" d="M1079.4 553.9L1075.1 550.4L1076.6 549.1Z"/>
<path class="t" d="M402.7 1011.5V1097.9H405.3V1011.5"/><path class="w" d="M404.6 1011.5H407.6V1113.6H404.6Z"/><path class="w" d="M407.6 1011.5Q416 981.9 419.2 955.4V1168.9Q416 1141.9 407.6 1113.6Z"/><rect class="w" x="419.3" y="923.3" width="26.6" height="277" rx="1.2"/><path class="o" d="M432.2 923.3V1200.3"/><rect class="w" x="445.9" y="969.9" width="198.6" height="183.6"/><path class="t" d="M445.9 971.1H644.5M445.9 1152.3H644.5M445.9 972.5H644.5M445.9 1150.9H644.5M445.9 975.5H644.5M445.9 1147.9H644.5M445.9 976.9H644.5M445.9 1146.5H644.5M445.9 979.7H644.5M445.9 1143.7H644.5M445.9 981.1H644.5M445.9 1142.3H644.5M445.9 983.9H644.5M445.9 1139.5H644.5M445.9 985.3H644.5M445.9 1138.1H644.5M445.9 988.1H644.5M445.9 1135.3H644.5M445.9 989.5H644.5M445.9 1133.9H644.5M445.9 992.5H644.5M445.9 1130.9H644.5M445.9 993.9H644.5M445.9 1129.5H644.5M445.9 998.5H644.5M445.9 1124.9H644.5M445.9 1000.1H644.5M445.9 1123.3H644.5M445.9 1004.5H644.5M445.9 1118.9H644.5M445.9 1006.3H644.5M445.9 1117.1H644.5M445.9 1011.1H644.5M445.9 1112.3H644.5M445.9 1013.3H644.5M445.9 1110.1H644.5M445.9 1017.5H644.5M445.9 1105.9H644.5M445.9 1022.3H644.5M445.9 1101.1H644.5" style="stroke-width:0.95"/><path class="w" d="M553.2 958.9Q557.5 959.9 557.5 964.9V969.9H630.7V964.9Q630.7 959.9 634.5 958.9"/><path class="o" d="M557.5 966.7H630.7"/><path class="w" d="M552.2 917.7H635.5V956.9Q635.5 958.9 633.5 958.9H554.2Q552.2 958.9 552.2 956.9Z"/><path class="o" d="M566.7 917.7V930.3H552.2M621 917.7V930.3H635.5"/><path class="o" d="M566.7 930.3H621"/><path class="t" d="M566.7 919.3H621"/><ellipse class="t" cx="559.4" cy="925.5" rx="5.2" ry="2.6"/><path class="t" d="M553.9 929.1H564.9"/><path class="t" d="M557.4 923.5L561.4 927.5M561.4 923.5L557.4 927.5"/><ellipse class="t" cx="628.3" cy="925.5" rx="5.2" ry="2.6"/><path class="t" d="M622.8 929.1H633.8"/><path class="t" d="M626.3 923.5L630.3 927.5M630.3 923.5L626.3 927.5"/><path class="w" d="M593.6 929.7L580.4 937.3L580.4 952.5L593.6 960.1L606.7 952.5L606.7 937.3Z"/><circle class="t" cx="593.6" cy="944.9" r="12.4"/><circle class="o" cx="593.6" cy="944.9" r="10.6"/><circle class="o" cx="593.6" cy="944.9" r="8.2"/><rect class="w" x="651.1" y="958.4" width="9.8" height="5.3"/><path class="t" d="M653.9 963.7V958.4M658.1 963.7V958.4"/><rect class="w" x="651.1" y="1160.3" width="9.8" height="5.3"/><path class="t" d="M653.9 1160.3V1165.6M658.1 1160.3V1165.6"/><path class="cs" d="M656.1 949V1175"/><path class="w" d="M666.3 965.5H707Q720 967.5 720 981V1143Q720 1156.5 707 1158.5H666.3"/><path class="o" d="M707.4 965.5V1158.5"/><rect class="w" x="644.5" y="963.7" width="21.8" height="196.6" rx="1.5"/><path class="o" d="M644.5 1035.2H720"/><path class="o" d="M644.5 1087.8H720"/><circle class="w" cx="656.1" cy="1062" r="6"/><circle class="o" cx="656.1" cy="1062" r="5.4"/><circle class="t" cx="656.1" cy="1062" r="3.2"/><path class="t" d="M651.1 1062H661.1M656.1 1057V1067"/><g transform="translate(288.8 1161.5)"><path class="o" d="M-113.8 -93.2V-146.2Q-113.8 -148.2 -111.8 -148.2H111.8Q113.8 -148.2 113.8 -146.2V-93.2"/><path class="o" d="M-103.2 52.4V-133.8Q-103.2 -136.8 -100.2 -136.8H98.6Q101.6 -136.8 101.6 -133.8V52.4"/><path class="o" d="M-113.8 -93.2H-103.2M-113.8 -91.8H-103.2M101.6 -93.2H113.8M101.6 -91.8H111.6"/><path class="o" d="M-114.2 -91.8V-59.4H-112M-112 -91.8V57.5"/><path class="o" d="M111.6 -91.8V57.5"/><path class="o" d="M-85 -148.2V-136.8"/><path class="o" d="M-71.2 -148.2V-136.8"/><path class="o" d="M-68.6 -148.2V-136.8"/><path class="o" d="M-58.2 -148.2V-136.8"/><path class="cs" d="M-76.9 -158V-118"/><path class="o" d="M85 -148.2V-136.8"/><path class="o" d="M71.2 -148.2V-136.8"/><path class="o" d="M68.6 -148.2V-136.8"/><path class="o" d="M58.2 -148.2V-136.8"/><path class="cs" d="M76.9 -158V-118"/><path class="k" d="M-58.2 -147.2H58.2M-57 -137.4H57"/><path class="t" d="M-58.2 -148.2L-56.5 -137M58.2 -148.2L56.5 -137"/><path class="o" d="M-103.2 -133H-94.6Q-92 -133 -92 -130.4V-124Q-92 -121.4 -94.6 -121.4H-103.2"/><path class="o" d="M-8 -136.8V-127M7.6 -136.8V-127M-8 -132H7.6"/><path class="o" d="M-92 -127H101.6"/><path class="o" d="M79.4 -125.5V-78Q79.4 -75.4 82 -75.4H94Q97.1 -75.4 97.1 -79"/><path class="o" d="M79.4 -125.5Q79.4 -128.5 82.4 -128.5H101.6"/><path class="o" d="M101.6 -106.7H96.4Q94.4 -106.7 94.4 -104.7V-93.2"/><path class="o" d="M95.3 -71.7V40"/><path class="o" d="M-97.5 -60V-68.5A3.6 3.6 0 0 1 -90.3 -68.5V-60"/><path class="o" d="M-94 -58V-45"/><path class="t" d="M0 -118.5H59.4 M0 -116.3H59.4"/><path class="t" d="M59.4 -118.5A1.1 1.1 0 0 1 59.4 -116.3"/><path class="t" d="M0 -118.5H-59.4 M0 -116.3H-59.4"/><path class="t" d="M-59.4 -118.5A1.1 1.1 0 0 0 -59.4 -116.3"/><path class="t" d="M0 -105.8H59.4 M0 -103.6H59.4"/><path class="t" d="M59.4 -105.8A1.1 1.1 0 0 1 59.4 -103.6"/><path class="t" d="M0 -105.8H-59.4 M0 -103.6H-59.4"/><path class="t" d="M-59.4 -105.8A1.1 1.1 0 0 0 -59.4 -103.6"/><path class="t" d="M-103.2 -92.2H-52.2 M-103.2 -90H-52.2"/><path class="t" d="M-52.2 -92.2A1.1 1.1 0 0 1 -52.2 -90"/><path class="t" d="M101.6 -92.2H52.2 M101.6 -90H52.2"/><path class="t" d="M52.2 -92.2A1.1 1.1 0 0 0 52.2 -90"/><path class="t" d="M-103.2 -79H-64.2 M-103.2 -76.8H-64.2"/><path class="t" d="M-64.2 -79A1.1 1.1 0 0 1 -64.2 -76.8"/><path class="t" d="M101.6 -79H64.2 M101.6 -76.8H64.2"/><path class="t" d="M64.2 -79A1.1 1.1 0 0 0 64.2 -76.8"/><path class="t" d="M-103.2 -65.8H-77.8 M-103.2 -63.6H-77.8"/><path class="t" d="M-77.8 -65.8A1.1 1.1 0 0 1 -77.8 -63.6"/><path class="t" d="M101.6 -65.8H77.8 M101.6 -63.6H77.8"/><path class="t" d="M77.8 -65.8A1.1 1.1 0 0 0 77.8 -63.6"/><path class="t" d="M-103.2 -52.6H-89.6 M-103.2 -50.4H-89.6"/><path class="t" d="M-89.6 -52.6A1.1 1.1 0 0 1 -89.6 -50.4"/><path class="t" d="M101.6 -52.6H89.6 M101.6 -50.4H89.6"/><path class="t" d="M89.6 -52.6A1.1 1.1 0 0 0 89.6 -50.4"/><path class="o" d="M-102.5 57.5H-111.8Q-113.8 57.5 -113.8 59.5V111.8Q-113.8 113.8 -111.8 113.8H0"/><path class="t" d="M-102.5 58.9H-113.8"/><path class="o" d="M-86 52.4H-102.2V101.9H-63.5"/><path class="o" d="M-95.2 52.4V95.4H-47.6"/><path class="o" d="M-95.2 95.4L-102.2 101.9"/><path class="t" d="M-47.6 95.4V100.5H-62.6V95.4"/><path class="o" d="M-58 102.6V113.8"/><path class="o" d="M-68.4 102.6V113.8"/><path class="o" d="M-69.9 102.6V113.8"/><path class="o" d="M-84 102.6V113.8"/><path class="o" d="M-58 102.6H-84"/><path class="cs" d="M-76.9 96.5V121.5"/><path class="o" d="M102.5 57.5H111.8Q113.8 57.5 113.8 59.5V111.8Q113.8 113.8 111.8 113.8H0"/><path class="t" d="M102.5 58.9H113.8"/><path class="o" d="M86 52.4H102.2V101.9H63.5"/><path class="o" d="M95.2 52.4V95.4H47.6"/><path class="o" d="M95.2 95.4L102.2 101.9"/><path class="t" d="M47.6 95.4V100.5H62.6V95.4"/><path class="o" d="M58 102.6V113.8"/><path class="o" d="M68.4 102.6V113.8"/><path class="o" d="M69.9 102.6V113.8"/><path class="o" d="M84 102.6V113.8"/><path class="o" d="M58 102.6H84"/><path class="cs" d="M76.9 96.5V121.5"/><path class="o" d="M-58 112.4H58"/><path class="o" d="M-94.7 -54.6A109.3 109.3 0 0 0 -94.7 54.7"/><path class="o" d="M94.7 54.6A109.3 109.3 0 0 0 94.7 -54.6"/><path class="o" d="M-43.1 101.4A110.2 110.2 0 0 0 43.1 101.4"/><path class="w" d="M76.2 52.4L91.1 46A8 8 0 0 0 99.7 38.3A106.6 106.6 0 0 0 99.7 -38.3A8 8 0 0 0 91.1 -46L76.2 -52.4A92.5 92.5 0 0 0 52.4 -76.2L46 -91.1A8 8 0 0 0 38.3 -99.7A106.6 106.6 0 0 0 -38.3 -99.7A8 8 0 0 0 -46 -91.1L-52.4 -76.2A92.5 92.5 0 0 0 -76.2 -52.4L-91.1 -46A8 8 0 0 0 -99.7 -38.3A106.6 106.6 0 0 0 -99.7 38.3A8 8 0 0 0 -91.1 46L-76.2 52.4A92.5 92.5 0 0 0 -52.4 76.2L-46 91.1A8 8 0 0 0 -38.3 99.7A106.6 106.6 0 0 0 38.3 99.7A8 8 0 0 0 46 91.1L52.4 76.2A92.5 92.5 0 0 0 76.2 52.4Z"/><path class="t" d="M74.5 -52.1A90.9 90.9 0 0 0 52.1 -74.5"/><path class="t" d="M-52.1 -74.5A90.9 90.9 0 0 0 -74.5 -52.1"/><path class="t" d="M-74.5 52.1A90.9 90.9 0 0 0 -52.1 74.5"/><path class="t" d="M52.1 74.5A90.9 90.9 0 0 0 74.5 52.1"/><path class="k" d="M-52.6 -75.1A91.7 91.7 0 0 0 -75.1 -52.6"/><circle class="cs" cx="0" cy="0" r="99.3"/><circle class="w" cx="91.7" cy="-38" r="7.1"/><circle class="t" cx="91.7" cy="-38" r="4.2"/><path class="t" d="M94 -39.3L91.7 -40.6L89.5 -39.3L89.5 -36.7L91.7 -35.4L94 -36.7Z"/><circle class="w" cx="38" cy="-91.7" r="7.1"/><circle class="t" cx="38" cy="-91.7" r="4.2"/><path class="t" d="M40.3 -93L38 -94.3L35.7 -93L35.7 -90.4L38 -89.1L40.3 -90.4Z"/><circle class="w" cx="-38" cy="-91.7" r="7.1"/><circle class="t" cx="-38" cy="-91.7" r="4.2"/><path class="t" d="M-35.7 -93L-38 -94.3L-40.3 -93L-40.3 -90.4L-38 -89.1L-35.7 -90.4Z"/><circle class="w" cx="-91.7" cy="-38" r="7.1"/><circle class="t" cx="-91.7" cy="-38" r="4.2"/><path class="t" d="M-89.5 -39.3L-91.7 -40.6L-94 -39.3L-94 -36.7L-91.7 -35.4L-89.5 -36.7Z"/><circle class="w" cx="-91.7" cy="38" r="7.1"/><circle class="t" cx="-91.7" cy="38" r="4.2"/><path class="t" d="M-89.5 36.7L-91.7 35.4L-94 36.7L-94 39.3L-91.7 40.6L-89.5 39.3Z"/><circle class="w" cx="-38" cy="91.7" r="7.1"/><circle class="t" cx="-38" cy="91.7" r="4.2"/><path class="t" d="M-35.7 90.4L-38 89.1L-40.3 90.4L-40.3 93L-38 94.3L-35.7 93Z"/><circle class="w" cx="38" cy="91.7" r="7.1"/><circle class="t" cx="38" cy="91.7" r="4.2"/><path class="t" d="M40.3 90.4L38 89.1L35.7 90.4L35.7 93L38 94.3L40.3 93Z"/><circle class="w" cx="91.7" cy="38" r="7.1"/><circle class="t" cx="91.7" cy="38" r="4.2"/><path class="t" d="M94 36.7L91.7 35.4L89.5 36.7L89.5 39.3L91.7 40.6L94 39.3Z"/><circle class="o" cx="0" cy="0" r="19.5"/><path class="w" d="M-6.2 -18.5V-22.8H6.2V-18.5"/><path class="" d="M-6.1 -18.6A19.5 19.5 0 0 1 6.1 -18.6" style="stroke:#fff;stroke-width:2.4;fill:none"/><circle class="o" cx="0" cy="0" r="32.3"/><circle class="o" cx="0" cy="0" r="46.2"/><circle class="o" cx="0" cy="0" r="47.4"/><circle class="o" cx="0" cy="0" r="59.6"/><path class="o" d="M52 -1.1A52 52 0 0 0 37.9 -35.6L40.2 -37.8A55.2 55.2 0 0 1 55.2 -1.2Z"/><path class="o" d="M35.6 -37.9A52 52 0 0 0 1.1 -52L1.2 -55.2A55.2 55.2 0 0 1 37.8 -40.2Z"/><path class="o" d="M-1.1 -52A52 52 0 0 0 -35.6 -37.9L-37.8 -40.2A55.2 55.2 0 0 1 -1.2 -55.2Z"/><path class="o" d="M-37.9 -35.6A52 52 0 0 0 -52 -1.1L-55.2 -1.2A55.2 55.2 0 0 1 -40.2 -37.8Z"/><path class="o" d="M-52 1.1A52 52 0 0 0 -37.9 35.6L-40.2 37.8A55.2 55.2 0 0 1 -55.2 1.2Z"/><path class="o" d="M-35.6 37.9A52 52 0 0 0 -1.1 52L-1.2 55.2A55.2 55.2 0 0 1 -37.8 40.2Z"/><path class="o" d="M1.1 52A52 52 0 0 0 35.6 37.9L37.8 40.2A55.2 55.2 0 0 1 1.2 55.2Z"/><path class="o" d="M37.9 35.6A52 52 0 0 0 52 1.1L55.2 1.2A55.2 55.2 0 0 1 40.2 37.8Z"/><circle class="o" cx="71.5" cy="0" r="5"/><circle class="o" cx="50.6" cy="-50.6" r="5"/><circle class="o" cx="0" cy="-71.5" r="5"/><circle class="o" cx="-50.6" cy="-50.6" r="5"/><circle class="o" cx="-71.5" cy="0" r="5"/><circle class="o" cx="-50.6" cy="50.6" r="5"/><circle class="o" cx="0" cy="71.5" r="5"/><circle class="o" cx="50.6" cy="50.6" r="5"/><path class="o" d="M79.7 -9.8Q72 -14.7 67.6 -24.1L64.3 -22.1L62.1 -23.8L59.5 -22.4A63.6 63.6 0 0 1 63 -8.9Z"/><path class="o" d="M79.7 9.8Q72 14.7 67.6 24.1L64.3 22.1L62.1 23.8L59.5 22.4A63.6 63.6 0 0 0 63 8.9Z"/><path class="o" d="M49.4 -63.3Q40.6 -61.3 30.8 -64.9L29.8 -61.1L27 -60.8L26.3 -57.9A63.6 63.6 0 0 1 38.3 -50.8Z"/><path class="o" d="M63.3 -49.4Q61.3 -40.6 64.9 -30.8L61.1 -29.8L60.8 -27L57.9 -26.3A63.6 63.6 0 0 0 50.8 -38.3Z"/><path class="o" d="M-9.8 -79.7Q-14.7 -72 -24.1 -67.6L-22.1 -64.3L-23.8 -62.1L-22.4 -59.5A63.6 63.6 0 0 1 -8.9 -63Z"/><path class="o" d="M9.8 -79.7Q14.7 -72 24.1 -67.6L22.1 -64.3L23.8 -62.1L22.4 -59.5A63.6 63.6 0 0 0 8.9 -63Z"/><path class="o" d="M-63.3 -49.4Q-61.3 -40.6 -64.9 -30.8L-61.1 -29.8L-60.8 -27L-57.9 -26.3A63.6 63.6 0 0 1 -50.8 -38.3Z"/><path class="o" d="M-49.4 -63.3Q-40.6 -61.3 -30.8 -64.9L-29.8 -61.1L-27 -60.8L-26.3 -57.9A63.6 63.6 0 0 0 -38.3 -50.8Z"/><path class="o" d="M-79.7 9.8Q-72 14.7 -67.6 24.1L-64.3 22.1L-62.1 23.8L-59.5 22.4A63.6 63.6 0 0 1 -63 8.9Z"/><path class="o" d="M-79.7 -9.8Q-72 -14.7 -67.6 -24.1L-64.3 -22.1L-62.1 -23.8L-59.5 -22.4A63.6 63.6 0 0 0 -63 -8.9Z"/><path class="o" d="M-49.4 63.3Q-40.6 61.3 -30.8 64.9L-29.8 61.1L-27 60.8L-26.3 57.9A63.6 63.6 0 0 1 -38.3 50.8Z"/><path class="o" d="M-63.3 49.4Q-61.3 40.6 -64.9 30.8L-61.1 29.8L-60.8 27L-57.9 26.3A63.6 63.6 0 0 0 -50.8 38.3Z"/><path class="o" d="M9.8 79.7Q14.7 72 24.1 67.6L22.1 64.3L23.8 62.1L22.4 59.5A63.6 63.6 0 0 1 8.9 63Z"/><path class="o" d="M-9.8 79.7Q-14.7 72 -24.1 67.6L-22.1 64.3L-23.8 62.1L-22.4 59.5A63.6 63.6 0 0 0 -8.9 63Z"/><path class="o" d="M63.3 49.4Q61.3 40.6 64.9 30.8L61.1 29.8L60.8 27L57.9 26.3A63.6 63.6 0 0 1 50.8 38.3Z"/><path class="o" d="M49.4 63.3Q40.6 61.3 30.8 64.9L29.8 61.1L27 60.8L26.3 57.9A63.6 63.6 0 0 0 38.3 50.8Z"/><path class="o" d="M87.6 -8.6L87.6 8.6"/><path class="o" d="M87.6 -8.6L80.5 -9.3"/><path class="o" d="M87.6 -8.6Q82.4 -34.1 67.5 -55.7Q70.3 -31.3 80.5 -9.3"/><path class="o" d="M87.6 8.6L80.5 9.3"/><path class="o" d="M87.6 8.6Q82.4 34.1 67.5 55.7Q70.3 31.3 80.5 9.3"/><path class="o" d="M-8.6 -87.6L8.6 -87.6"/><path class="o" d="M-8.6 -87.6L-9.3 -80.5"/><path class="o" d="M-8.6 -87.6Q-34.1 -82.4 -55.7 -67.5Q-31.3 -70.3 -9.3 -80.5"/><path class="o" d="M8.6 -87.6L9.3 -80.5"/><path class="o" d="M8.6 -87.6Q34.1 -82.4 55.7 -67.5Q31.3 -70.3 9.3 -80.5"/><path class="o" d="M-87.6 8.6L-87.6 -8.6"/><path class="o" d="M-87.6 8.6L-80.5 9.3"/><path class="o" d="M-87.6 8.6Q-82.4 34.1 -67.5 55.7Q-70.3 31.3 -80.5 9.3"/><path class="o" d="M-87.6 -8.6L-80.5 -9.3"/><path class="o" d="M-87.6 -8.6Q-82.4 -34.1 -67.5 -55.7Q-70.3 -31.3 -80.5 -9.3"/><path class="o" d="M8.6 87.6L-8.6 87.6"/><path class="o" d="M8.6 87.6L9.3 80.5"/><path class="o" d="M8.6 87.6Q34.1 82.4 55.7 67.5Q31.3 70.3 9.3 80.5"/><path class="o" d="M-8.6 87.6L-9.3 80.5"/><path class="o" d="M-8.6 87.6Q-34.1 82.4 -55.7 67.5Q-31.3 70.3 -9.3 80.5"/><circle class="cs" cx="0" cy="0" r="71.5"/></g><path class="c" d="M166 1061.9H733"/><path class="c" d="M170.8 1161.5H406.8"/><path class="c" d="M288.8 984.6V1336.5"/><path class="d" d="M288.8 950.2V960.4"/><path class="d" d="M175.1 881.5V1013.5"/><path class="d" d="M720.6 881.5V966.1"/><path class="d" d="M175.1 886.5H720.6"/><path class="a" d="M175.1 886.5L181.6 885.4L181.6 887.6Z"/><path class="a" d="M720.6 886.5L714.1 887.6L714.1 885.4Z"/><text class="dt" transform="translate(443.4 881.8) scale(0.72 1)" font-size="14.5" text-anchor="middle">L</text><path class="d" d="M175.1 916.7H288.8"/><path class="a" d="M175.1 916.7L181.6 915.6L181.6 917.8Z"/><path class="a" d="M288.8 916.7L282.3 917.8L282.3 915.6Z"/><text class="dt" transform="translate(231.7 912.3) scale(0.72 1)" font-size="14.5" text-anchor="middle">103</text><path class="d" d="M288.8 916.7H432.4"/><path class="a" d="M288.8 916.7L295.3 915.6L295.3 917.8Z"/><path class="a" d="M432.4 916.7L425.9 917.8L425.9 915.6Z"/><text class="dt" transform="translate(360.6 912.3) scale(0.72 1)" font-size="14.5" text-anchor="middle">129.5</text><path class="d" d="M288.8 910.7V922.7"/><path class="d" d="M432.4 910.7V923.5"/><path class="d" d="M175.1 946.8H404.5"/><path class="a" d="M175.1 946.8L181.6 945.7L181.6 947.9Z"/><path class="a" d="M404.5 946.8L398 947.9L398 945.7Z"/><text class="dt" transform="translate(287.6 941.4) scale(0.72 1)" font-size="14.5" text-anchor="middle">208</text><path class="d" d="M404.5 940.8V1015.5"/><path class="d" d="M211.4 981.8H365.4"/><path class="a" d="M211.4 981.8L217.9 980.7L217.9 982.9Z"/><path class="a" d="M365.4 981.8L358.9 982.9L358.9 980.7Z"/><text class="dt" transform="translate(287.6 977.6) scale(0.72 1)" font-size="14.5" text-anchor="middle">140</text><path class="d" d="M211.4 976.8V1031.5"/><path class="d" d="M365.4 976.8V1031.5"/><path class="d" d="M134.6 984.5V1039.5"/><path class="a" d="M134.6 1013.5L133.5 1007L135.7 1007Z"/><path class="a" d="M134.6 1024.8L135.7 1031.3L133.5 1031.3Z"/><path class="d" d="M131.1 1013.5H175.1"/><path class="d" d="M131.1 1024.8H233.1"/><text class="dt" transform="translate(131.6 995) rotate(-90) scale(0.72 1)" font-size="14.5" text-anchor="middle">11</text><path class="d" d="M552.2 907.8H635.5"/><path class="a" d="M552.2 907.8L558.7 906.7L558.7 908.9Z"/><path class="a" d="M635.5 907.8L629 908.9L629 906.7Z"/><path class="d" d="M552.2 902.8V920.8"/><path class="d" d="M635.5 902.8V920.8"/><g transform="translate(593.6 903.5)"><text x="-8" y="0" font-size="9.5" transform="scale(0.9 1.08)">□</text><text class="dt" transform="translate(-1 0) scale(0.72 1)" font-size="13.8">M</text></g><path class="d" d="M748 965.1V1160"/><path class="a" d="M748 965.1L749.1 971.6L746.9 971.6Z"/><path class="a" d="M748 1160L746.9 1153.5L749.1 1153.5Z"/><path class="d" d="M721.6 965.1H752"/><path class="d" d="M721.6 1160H752"/><g transform="translate(743 1061.4) rotate(-90)"><text x="-11.1" y="0" font-size="9.5" transform="scale(0.9 1.08)">□</text><text class="dt" transform="translate(-3.8 0) scale(0.72 1)" font-size="13.8">AC</text></g><text class="dt" transform="translate(117.6 1118.5) scale(0.72 1)" font-size="14.5" text-anchor="start">Ø130</text><path class="d" d="M118.1 1122H151.1L357.7 1180.6"/><path class="a" d="M357.7 1180.6L352.6 1180.1L353.1 1178.4Z"/><path class="a" d="M219.9 1142.4L225 1142.9L224.5 1144.6Z"/><text class="dt" transform="translate(117.6 1160.5) scale(0.72 1)" font-size="14.5" text-anchor="start">M10×18</text><path class="d" d="M118.1 1166H151.1L233.7 1209.5"/><path class="a" d="M233.7 1209.5L228.9 1207.9L229.7 1206.4Z"/><path class="a" d="M242.7 1214.5L247.5 1216.1L246.7 1217.6Z"/><path class="d" d="M242.7 1214.5L248.1 1217.5"/><path class="d" d="M244.8 1205.5L167.1 1286.5"/><path class="d" d="M167.5 1282.8A171.5 171.5 0 0 0 288.8 1333"/><path class="a" d="M288.8 1333L282.8 1334L282.8 1332Z"/><path class="a" d="M167.5 1282.8L172 1286.9L170.4 1288.1Z"/><text class="dt" transform="translate(226.1 1314.5) rotate(17) scale(0.72 1)" font-size="14.5" text-anchor="middle" font-style="italic">45°</text><g transform="translate(1012.4 1061.9)"><path class="w" d="M-36.8 -103.7V-96Q-36.8 -92 -33 -92H33Q37.3 -92 37.3 -96V-103.7"/><path class="t" d="M-36.8 -95.7H37.3"/><rect class="w" x="-44.8" y="-143" width="90.1" height="39.3"/><path class="o" d="M-30 -143V-121.8"/><path class="o" d="M31.2 -143V-129.7"/><path class="o" d="M31.2 -129.7H45.3"/><path class="o" d="M-44.8 -119.1L45.3 -129.7"/><ellipse class="t" cx="-38.8" cy="-124.4" rx="5" ry="2.5"/><path class="t" d="M-44.1 -121H-33.5"/><path class="t" d="M-40.8 -126.4L-36.8 -122.4M-36.8 -126.4L-40.8 -122.4"/><ellipse class="t" cx="38.3" cy="-136.5" rx="5" ry="2.5"/><path class="t" d="M33 -133.1H43.6"/><path class="t" d="M36.3 -138.5L40.3 -134.5M40.3 -138.5L36.3 -134.5"/><circle class="w" cx="0" cy="0" r="137.2"/><circle class="o" cx="0" cy="0" r="87.6"/><g transform="rotate(-90)"><ellipse class="w" cx="89.5" cy="0" rx="37.5" ry="3.4" style="stroke-width:0.9"/><ellipse class="t" cx="89.5" cy="0" rx="34" ry="1.4" style="stroke-width:0.5"/></g><g transform="rotate(-30)"><ellipse class="w" cx="89.5" cy="0" rx="37.5" ry="3.4" style="stroke-width:0.9"/><ellipse class="t" cx="89.5" cy="0" rx="34" ry="1.4" style="stroke-width:0.5"/></g><g transform="rotate(-150)"><ellipse class="w" cx="89.5" cy="0" rx="37.5" ry="3.4" style="stroke-width:0.9"/><ellipse class="t" cx="89.5" cy="0" rx="34" ry="1.4" style="stroke-width:0.5"/></g><g transform="rotate(-210)"><ellipse class="w" cx="89.5" cy="0" rx="37.5" ry="3.4" style="stroke-width:0.9"/><ellipse class="t" cx="89.5" cy="0" rx="34" ry="1.4" style="stroke-width:0.5"/></g><g transform="rotate(-330)"><ellipse class="w" cx="89.5" cy="0" rx="37.5" ry="3.4" style="stroke-width:0.9"/><ellipse class="t" cx="89.5" cy="0" rx="34" ry="1.4" style="stroke-width:0.5"/></g><rect class="w" x="-77.3" y="38.6" width="6" height="122"/><rect class="w" x="-74.2" y="11.3" width="3.8" height="70.3"/><rect class="w" x="71.3" y="38.6" width="6" height="122"/><rect class="w" x="70.4" y="11.3" width="3.8" height="70.3"/><path class="" d="M-71.3 5H71.3V160H-71.3Z" style="fill:#fff;stroke:none"/><path class="o" d="M-69.9 7V157M-64.9 7V157M-44.8 7V157"/><path class="o" d="M-40.4 7V195" style="stroke-width:1.7"/><path class="o" d="M-25.4 33V192.5"/><path class="o" d="M69.9 7V157M64.9 7V157M44.8 7V157"/><path class="o" d="M40.4 7V195" style="stroke-width:1.7"/><path class="o" d="M25.4 33V192.5"/><rect class="o" x="45" y="58" width="20.8" height="25.1"/><rect class="o" x="45" y="114.4" width="20.8" height="40.8"/><path class="o" d="M45 139.4H65.8"/><path class="k" d="M71.6 129V145"/><path class="" d="M-41.7 -47.9H41.7V-32.6H37.1L30 -15L0 0L-30 -15L-37.1 -32.6H-41.7Z" style="fill:#fff;stroke:none"/><path class="o" d="M-41.7 -47.9H41.7"/><circle class="w" cx="0" cy="0" r="41"/><path class="t" d="M21.3 36.9A42.6 42.6 0 0 1 -21.3 36.9"/><circle class="w" cx="-30" cy="-30" r="6.2"/><circle class="w" cx="-30" cy="30" r="6.2"/><circle class="w" cx="30" cy="-30" r="6.2"/><circle class="w" cx="30" cy="30" r="6.2"/><circle style="fill:#fff;stroke:none" cx="0" cy="0" r="40.2"/><circle class="o" cx="-30" cy="-30" r="4"/><circle class="o" cx="-30" cy="30" r="4"/><circle class="o" cx="30" cy="-30" r="4"/><circle class="o" cx="30" cy="30" r="4"/><path class="o" d="M-41.7 -47.9V-32.6H-37.3L-35 -37"/><path class="t" d="M-40.4 -47.9V-32.6"/><path class="o" d="M41.7 -47.9V-32.6H37.3L35 -37"/><path class="t" d="M40.4 -47.9V-32.6"/><circle class="o" cx="0" cy="0" r="34.2"/><circle class="k" cx="0" cy="68" r="13.5"/><circle class="o" cx="0" cy="68" r="8.3"/><path class="cs" d="M-15 68H15"/><rect class="o" x="-21.2" y="83.8" width="42.4" height="31.6" rx="3"/><rect class="w" x="-71.3" y="-49.6" width="29.6" height="54.6"/><path class="o" d="M-67 -19.7V-42.9H-45V-18.5A12.5 12.5 0 0 0 -67 -19.7Z"/><path class="o" d="M-67 -6.7V0.5H-45V-7.9A12.5 12.5 0 0 1 -67 -6.7Z"/><path class="t" d="M-67 -38H-45"/><path class="t" d="M-67 -35.9H-45"/><circle class="o" cx="-56.3" cy="-13.2" r="7.1"/><path class="cs" d="M-72.3 -13.2H-40.3"/><path class="cs" d="M-56.3 -31.2V4.8"/><rect class="w" x="41.7" y="-49.6" width="29.6" height="54.6"/><path class="o" d="M46 -20.3V-42.9H68V-17.6A12.5 12.5 0 0 0 46 -20.3Z"/><path class="o" d="M46 -6.1V0.5H68V-8.8A12.5 12.5 0 0 1 46 -6.1Z"/><path class="t" d="M46 -38H68"/><path class="t" d="M46 -35.9H68"/><circle class="o" cx="56.3" cy="-13.2" r="7.1"/><path class="cs" d="M40.3 -13.2H72.3"/><path class="cs" d="M56.3 -31.2V4.8"/><path class="k" d="M-71.3 6.6H-41.7M41.7 6.6H71.3"/><rect class="w" x="-71.3" y="156.6" width="30.2" height="56"/><path class="o" d="M-67 169.2V162.3H-44.4V172.3A12.5 12.5 0 0 0 -67 169.2Z"/><path class="o" d="M-67 182.4V205.4H-44.4V179.3A12.5 12.5 0 0 1 -67 182.4Z"/><path class="t" d="M-67 200.5H-44.4"/><path class="t" d="M-67 198.4H-44.4"/><circle class="o" cx="-56.4" cy="175.8" r="7.1"/><path class="cs" d="M-72.4 175.8H-40.4"/><path class="cs" d="M-56.4 157.8V193.8"/><rect class="w" x="41.1" y="156.6" width="30.2" height="56"/><path class="o" d="M45.4 169.9V162.3H68V171.1A12.5 12.5 0 0 0 45.4 169.9Z"/><path class="o" d="M45.4 181.7V205.4H68V180.5A12.5 12.5 0 0 1 45.4 181.7Z"/><path class="t" d="M45.4 200.5H68"/><path class="t" d="M45.4 198.4H68"/><circle class="o" cx="56.4" cy="175.8" r="7.1"/><path class="cs" d="M40.4 175.8H72.4"/><path class="cs" d="M56.4 157.8V193.8"/><path class="o" d="M-41.1 212.6L-24.8 192.5H26.9L40.7 212.6"/><path class="t" d="M2.5 192.5V199.6H26.9"/><rect class="w" x="-31.9" y="122.1" width="2.5" height="87.5" rx="1.25" style="stroke-width:0.8"/><rect class="w" x="-21.9" y="119.2" width="2.5" height="90.4" rx="1.25" style="stroke-width:0.8"/><rect class="w" x="-11.7" y="119.2" width="2.5" height="90.4" rx="1.25" style="stroke-width:0.8"/><rect x="-1.2" y="118.2" width="2.8" height="91.4" rx="1.4" fill="#231f20"/><rect class="w" x="9.1" y="119.2" width="2.5" height="90.4" rx="1.25" style="stroke-width:0.8"/><rect class="w" x="19.1" y="119.2" width="2.5" height="90.4" rx="1.25" style="stroke-width:0.8"/><rect class="w" x="29.1" y="122.1" width="2.5" height="87.5" rx="1.25" style="stroke-width:0.8"/></g><path class="c" d="M866 1061.9H1163"/><path class="c" d="M1012.4 906V1282"/><path class="c" d="M920 1161.3H1098"/><path class="d" d="M788.3 1012.1H941.1"/><path class="d" d="M788.3 1274.9H1196.1"/><path class="d" d="M812.1 1161.3H923.4"/><path class="d" d="M835.7 1048.6H948.4"/><path class="d" d="M835.7 1238.1H972.4"/><path class="d" d="M794.3 1012.1V1274.9"/><path class="a" d="M794.3 1012.1L795.4 1018.6L793.2 1018.6Z"/><path class="a" d="M794.3 1274.9L793.2 1268.4L795.4 1268.4Z"/><text class="dt" transform="translate(790.3 1143.5) rotate(-90) scale(0.72 1)" font-size="14.5" text-anchor="middle">238</text><path class="d" d="M817.1 1012.1V1161.3"/><path class="a" d="M817.1 1012.1L818.2 1018.6L816 1018.6Z"/><path class="a" d="M817.1 1161.3L816 1154.8L818.2 1154.8Z"/><text class="dt" transform="translate(813.1 1086.7) rotate(-90) scale(0.72 1)" font-size="14.5" text-anchor="middle">135</text><path class="d" d="M817.1 1161.3V1274.9"/><path class="a" d="M817.1 1161.3L818.2 1167.8L816 1167.8Z"/><path class="a" d="M817.1 1274.9L816 1268.4L818.2 1268.4Z"/><text class="dt" transform="translate(813.1 1218.1) rotate(-90) scale(0.72 1)" font-size="14.5" text-anchor="middle">103</text><path class="d" d="M839.7 1048.6V1161.3"/><path class="a" d="M839.7 1048.6L840.8 1055.1L838.6 1055.1Z"/><path class="a" d="M839.7 1161.3L838.6 1154.8L840.8 1154.8Z"/><text class="dt" transform="translate(835.7 1104.9) rotate(-90) scale(0.72 1)" font-size="14.5" text-anchor="middle">102</text><path class="d" d="M839.7 1161.3V1238.1"/><path class="a" d="M839.7 1161.3L840.8 1167.8L838.6 1167.8Z"/><path class="a" d="M839.7 1238.1L838.6 1231.6L840.8 1231.6Z"/><text class="dt" transform="translate(835.7 1199.7) rotate(-90) scale(0.72 1)" font-size="14.5" text-anchor="middle">70</text><path class="d" d="M861.9 1061.9V1161.3"/><path class="a" d="M861.9 1061.9L863 1068.4L860.8 1068.4Z"/><path class="a" d="M861.9 1161.3L860.8 1154.8L863 1154.8Z"/><text class="dt" transform="translate(857.9 1111.6) rotate(-90) scale(0.72 1)" font-size="14.5" text-anchor="middle">90</text><path class="d" d="M865.3 1231H962.4"/><path class="d" d="M865.3 1245.4H962.4"/><path class="d" d="M868.3 1196V1261.4"/><path class="a" d="M868.3 1231L867.2 1224.5L869.4 1224.5Z"/><path class="a" d="M868.3 1245.4L869.4 1251.9L867.2 1251.9Z"/><text class="dt" transform="translate(864.3 1209) rotate(-90) scale(0.72 1)" font-size="14.5" text-anchor="middle">13</text><path class="d" d="M971.1 1303.2H1053.7"/><path class="a" d="M971.1 1303.2L977.6 1302.1L977.6 1304.3Z"/><path class="a" d="M1053.7 1303.2L1047.2 1304.3L1047.2 1302.1Z"/><text class="dt" transform="translate(1012.4 1299) scale(0.72 1)" font-size="14.5" text-anchor="middle">74</text><path class="d" d="M971.1 1274.9V1306.2"/><path class="d" d="M1053.7 1274.9V1306.2"/><path class="d" d="M956 1324.1H1068.8"/><path class="a" d="M956 1324.1L962.5 1323L962.5 1325.2Z"/><path class="a" d="M1068.8 1324.1L1062.2 1325.2L1062.2 1323Z"/><text class="dt" transform="translate(1012.4 1319.9) scale(0.72 1)" font-size="14.5" text-anchor="middle">100</text><path class="d" d="M956 1238.9V1327.1"/><path class="d" d="M1068.8 1238.9V1327.1"/><path class="d" d="M940.6 1344.8H1084.2"/><path class="a" d="M940.6 1344.8L947.1 1343.7L947.1 1345.9Z"/><path class="a" d="M1084.2 1344.8L1077.7 1345.9L1077.7 1343.7Z"/><text class="dt" transform="translate(1012.4 1340.6) scale(0.72 1)" font-size="14.5" text-anchor="middle">130</text><path class="d" d="M940.6 1274.9V1347.8"/><path class="d" d="M1084.2 1274.9V1347.8"/><path class="d" d="M938.1 1365.4H1086.7"/><path class="a" d="M938.1 1365.4L944.6 1364.3L944.6 1366.5Z"/><path class="a" d="M1086.7 1365.4L1080.2 1366.5L1080.2 1364.3Z"/><text class="dt" transform="translate(1012.4 1361.2) scale(0.72 1)" font-size="14.5" text-anchor="middle">134</text><path class="d" d="M938.1 1221.3V1368.4"/><path class="d" d="M1086.7 1221.3V1368.4"/><path class="d" d="M934.9 1386.7H1089.8"/><path class="a" d="M934.9 1386.7L941.4 1385.6L941.4 1387.8Z"/><path class="a" d="M1089.8 1386.7L1083.3 1387.8L1083.3 1385.6Z"/><text class="dt" transform="translate(1012.4 1382.5) scale(0.72 1)" font-size="14.5" text-anchor="middle">140</text><path class="d" d="M934.9 1101.3V1389.7"/><path class="d" d="M1089.8 1101.3V1389.7"/><path class="d" d="M1191.1 918.4V1274.9"/><path class="a" d="M1191.1 918.4L1192.2 924.9L1190 924.9Z"/><path class="a" d="M1191.1 1274.9L1190 1268.4L1192.2 1268.4Z"/><text class="dt" transform="translate(1186.6 1096.7) rotate(-90) scale(0.72 1)" font-size="14.5" text-anchor="middle">HD</text><path class="d" d="M1160 1100.7V1221.9"/><path class="a" d="M1160 1100.7L1161.1 1107.2L1158.9 1107.2Z"/><path class="a" d="M1160 1221.9L1158.9 1215.4L1161.1 1215.4Z"/><path class="d" d="M1089.4 1100.7H1164"/><path class="d" d="M1084.4 1221.9H1164"/><text class="dt" transform="translate(1155.5 1162.3) rotate(-90) scale(0.72 1)" font-size="14.5" text-anchor="middle">2-Ø110h8</text><path class="d" d="M1058 918.4H1196"/><text class="dt" transform="translate(859.4 955) scale(0.72 1)" font-size="14.5" text-anchor="middle">P</text><path class="d" d="M856.2 958.1H868.9L1134.9 1151.7"/><path class="a" d="M901.4 981.3L896.4 978.9L897.5 977.3Z"/><path class="a" d="M1123.4 1142.5L1128.4 1144.9L1127.3 1146.5Z"/>
<path class="t" d="M392.6 1446.6H395.3V1541.7H392.6"/><path class="w" d="M395.3 1446.6L410 1420.4V1568.9L395.3 1541.7Z"/><rect class="w" x="410" y="1407.9" width="11.5" height="172.4" rx="1.2"/><rect class="w" x="207.1" y="1478.2" width="7.3" height="34"/><path class="w" d="M207.1 1482.8H153.5L152 1484.3V1506.2L153.5 1507.7H207.1"/><path class="t" d="M154.4 1483.5V1507"/><path class="o" d="M163.3 1482.8V1479.4H196.9V1482.8"/><path class="t" d="M154.4 1490.2H177.5L182.2 1495.2L177.5 1499.8H154.4M156.6 1490.2V1499.8M177.5 1490.2V1499.8"/><g transform="translate(303.5 1563.3) scale(0.785)" class="g3"><path class="o" d="M-113.8 -93.2V-146.2Q-113.8 -148.2 -111.8 -148.2H111.8Q113.8 -148.2 113.8 -146.2V-93.2"/><path class="o" d="M-103.2 52.4V-133.8Q-103.2 -136.8 -100.2 -136.8H98.6Q101.6 -136.8 101.6 -133.8V52.4"/><path class="o" d="M-113.8 -93.2H-103.2M-113.8 -91.8H-103.2M101.6 -93.2H113.8M101.6 -91.8H111.6"/><path class="o" d="M-114.2 -91.8V-59.4H-112M-112 -91.8V57.5"/><path class="o" d="M111.6 -91.8V57.5"/><path class="o" d="M-85 -148.2V-136.8"/><path class="o" d="M-71.2 -148.2V-136.8"/><path class="o" d="M-68.6 -148.2V-136.8"/><path class="o" d="M-58.2 -148.2V-136.8"/><path class="cs" d="M-76.9 -158V-118"/><path class="o" d="M85 -148.2V-136.8"/><path class="o" d="M71.2 -148.2V-136.8"/><path class="o" d="M68.6 -148.2V-136.8"/><path class="o" d="M58.2 -148.2V-136.8"/><path class="cs" d="M76.9 -158V-118"/><path class="k" d="M-58.2 -147.2H58.2M-57 -137.4H57"/><path class="t" d="M-58.2 -148.2L-56.5 -137M58.2 -148.2L56.5 -137"/><path class="o" d="M-103.2 -133H-94.6Q-92 -133 -92 -130.4V-124Q-92 -121.4 -94.6 -121.4H-103.2"/><path class="o" d="M-8 -136.8V-127M7.6 -136.8V-127M-8 -132H7.6"/><path class="o" d="M-92 -127H101.6"/><path class="o" d="M79.4 -125.5V-78Q79.4 -75.4 82 -75.4H94Q97.1 -75.4 97.1 -79"/><path class="o" d="M79.4 -125.5Q79.4 -128.5 82.4 -128.5H101.6"/><path class="o" d="M101.6 -106.7H96.4Q94.4 -106.7 94.4 -104.7V-93.2"/><path class="o" d="M95.3 -71.7V40"/><path class="o" d="M-97.5 -60V-68.5A3.6 3.6 0 0 1 -90.3 -68.5V-60"/><path class="o" d="M-94 -58V-45"/><path class="t" d="M0 -118.5H59.4 M0 -116.3H59.4"/><path class="t" d="M59.4 -118.5A1.1 1.1 0 0 1 59.4 -116.3"/><path class="t" d="M0 -118.5H-59.4 M0 -116.3H-59.4"/><path class="t" d="M-59.4 -118.5A1.1 1.1 0 0 0 -59.4 -116.3"/><path class="t" d="M0 -105.8H59.4 M0 -103.6H59.4"/><path class="t" d="M59.4 -105.8A1.1 1.1 0 0 1 59.4 -103.6"/><path class="t" d="M0 -105.8H-59.4 M0 -103.6H-59.4"/><path class="t" d="M-59.4 -105.8A1.1 1.1 0 0 0 -59.4 -103.6"/><path class="t" d="M-103.2 -92.2H-52.2 M-103.2 -90H-52.2"/><path class="t" d="M-52.2 -92.2A1.1 1.1 0 0 1 -52.2 -90"/><path class="t" d="M101.6 -92.2H52.2 M101.6 -90H52.2"/><path class="t" d="M52.2 -92.2A1.1 1.1 0 0 0 52.2 -90"/><path class="t" d="M-103.2 -79H-64.2 M-103.2 -76.8H-64.2"/><path class="t" d="M-64.2 -79A1.1 1.1 0 0 1 -64.2 -76.8"/><path class="t" d="M101.6 -79H64.2 M101.6 -76.8H64.2"/><path class="t" d="M64.2 -79A1.1 1.1 0 0 0 64.2 -76.8"/><path class="t" d="M-103.2 -65.8H-77.8 M-103.2 -63.6H-77.8"/><path class="t" d="M-77.8 -65.8A1.1 1.1 0 0 1 -77.8 -63.6"/><path class="t" d="M101.6 -65.8H77.8 M101.6 -63.6H77.8"/><path class="t" d="M77.8 -65.8A1.1 1.1 0 0 0 77.8 -63.6"/><path class="t" d="M-103.2 -52.6H-89.6 M-103.2 -50.4H-89.6"/><path class="t" d="M-89.6 -52.6A1.1 1.1 0 0 1 -89.6 -50.4"/><path class="t" d="M101.6 -52.6H89.6 M101.6 -50.4H89.6"/><path class="t" d="M89.6 -52.6A1.1 1.1 0 0 0 89.6 -50.4"/><path class="o" d="M-102.5 57.5H-111.8Q-113.8 57.5 -113.8 59.5V111.8Q-113.8 113.8 -111.8 113.8H0"/><path class="t" d="M-102.5 58.9H-113.8"/><path class="o" d="M-86 52.4H-102.2V101.9H-63.5"/><path class="o" d="M-95.2 52.4V95.4H-47.6"/><path class="o" d="M-95.2 95.4L-102.2 101.9"/><path class="t" d="M-47.6 95.4V100.5H-62.6V95.4"/><path class="o" d="M-58 102.6V113.8"/><path class="o" d="M-68.4 102.6V113.8"/><path class="o" d="M-69.9 102.6V113.8"/><path class="o" d="M-84 102.6V113.8"/><path class="o" d="M-58 102.6H-84"/><path class="cs" d="M-76.9 96.5V121.5"/><path class="o" d="M102.5 57.5H111.8Q113.8 57.5 113.8 59.5V111.8Q113.8 113.8 111.8 113.8H0"/><path class="t" d="M102.5 58.9H113.8"/><path class="o" d="M86 52.4H102.2V101.9H63.5"/><path class="o" d="M95.2 52.4V95.4H47.6"/><path class="o" d="M95.2 95.4L102.2 101.9"/><path class="t" d="M47.6 95.4V100.5H62.6V95.4"/><path class="o" d="M58 102.6V113.8"/><path class="o" d="M68.4 102.6V113.8"/><path class="o" d="M69.9 102.6V113.8"/><path class="o" d="M84 102.6V113.8"/><path class="o" d="M58 102.6H84"/><path class="cs" d="M76.9 96.5V121.5"/><path class="o" d="M-58 112.4H58"/><path class="o" d="M-94.7 -54.6A109.3 109.3 0 0 0 -94.7 54.7"/><path class="o" d="M94.7 54.6A109.3 109.3 0 0 0 94.7 -54.6"/><path class="o" d="M-43.1 101.4A110.2 110.2 0 0 0 43.1 101.4"/><path class="w" d="M76.2 52.4L91.1 46A8 8 0 0 0 99.7 38.3A106.6 106.6 0 0 0 99.7 -38.3A8 8 0 0 0 91.1 -46L76.2 -52.4A92.5 92.5 0 0 0 52.4 -76.2L46 -91.1A8 8 0 0 0 38.3 -99.7A106.6 106.6 0 0 0 -38.3 -99.7A8 8 0 0 0 -46 -91.1L-52.4 -76.2A92.5 92.5 0 0 0 -76.2 -52.4L-91.1 -46A8 8 0 0 0 -99.7 -38.3A106.6 106.6 0 0 0 -99.7 38.3A8 8 0 0 0 -91.1 46L-76.2 52.4A92.5 92.5 0 0 0 -52.4 76.2L-46 91.1A8 8 0 0 0 -38.3 99.7A106.6 106.6 0 0 0 38.3 99.7A8 8 0 0 0 46 91.1L52.4 76.2A92.5 92.5 0 0 0 76.2 52.4Z"/><path class="t" d="M74.5 -52.1A90.9 90.9 0 0 0 52.1 -74.5"/><path class="t" d="M-52.1 -74.5A90.9 90.9 0 0 0 -74.5 -52.1"/><path class="t" d="M-74.5 52.1A90.9 90.9 0 0 0 -52.1 74.5"/><path class="t" d="M52.1 74.5A90.9 90.9 0 0 0 74.5 52.1"/><path class="k" d="M-52.6 -75.1A91.7 91.7 0 0 0 -75.1 -52.6"/><circle class="cs" cx="0" cy="0" r="99.3"/><circle class="w" cx="91.7" cy="-38" r="7.1"/><circle class="t" cx="91.7" cy="-38" r="4.2"/><path class="t" d="M94 -39.3L91.7 -40.6L89.5 -39.3L89.5 -36.7L91.7 -35.4L94 -36.7Z"/><circle class="w" cx="38" cy="-91.7" r="7.1"/><circle class="t" cx="38" cy="-91.7" r="4.2"/><path class="t" d="M40.3 -93L38 -94.3L35.7 -93L35.7 -90.4L38 -89.1L40.3 -90.4Z"/><circle class="w" cx="-38" cy="-91.7" r="7.1"/><circle class="t" cx="-38" cy="-91.7" r="4.2"/><path class="t" d="M-35.7 -93L-38 -94.3L-40.3 -93L-40.3 -90.4L-38 -89.1L-35.7 -90.4Z"/><circle class="w" cx="-91.7" cy="-38" r="7.1"/><circle class="t" cx="-91.7" cy="-38" r="4.2"/><path class="t" d="M-89.5 -39.3L-91.7 -40.6L-94 -39.3L-94 -36.7L-91.7 -35.4L-89.5 -36.7Z"/><circle class="w" cx="-91.7" cy="38" r="7.1"/><circle class="t" cx="-91.7" cy="38" r="4.2"/><path class="t" d="M-89.5 36.7L-91.7 35.4L-94 36.7L-94 39.3L-91.7 40.6L-89.5 39.3Z"/><circle class="w" cx="-38" cy="91.7" r="7.1"/><circle class="t" cx="-38" cy="91.7" r="4.2"/><path class="t" d="M-35.7 90.4L-38 89.1L-40.3 90.4L-40.3 93L-38 94.3L-35.7 93Z"/><circle class="w" cx="38" cy="91.7" r="7.1"/><circle class="t" cx="38" cy="91.7" r="4.2"/><path class="t" d="M40.3 90.4L38 89.1L35.7 90.4L35.7 93L38 94.3L40.3 93Z"/><circle class="w" cx="91.7" cy="38" r="7.1"/><circle class="t" cx="91.7" cy="38" r="4.2"/><path class="t" d="M94 36.7L91.7 35.4L89.5 36.7L89.5 39.3L91.7 40.6L94 39.3Z"/><circle class="o" cx="0" cy="0" r="19.5"/><path class="w" d="M-6.2 -18.5V-22.8H6.2V-18.5"/><path class="" d="M-6.1 -18.6A19.5 19.5 0 0 1 6.1 -18.6" style="stroke:#fff;stroke-width:2.4;fill:none"/><circle class="o" cx="0" cy="0" r="32.3"/><circle class="o" cx="0" cy="0" r="46.2"/><circle class="o" cx="0" cy="0" r="47.4"/><circle class="o" cx="0" cy="0" r="59.6"/><path class="o" d="M52 -1.1A52 52 0 0 0 37.9 -35.6L40.2 -37.8A55.2 55.2 0 0 1 55.2 -1.2Z"/><path class="o" d="M35.6 -37.9A52 52 0 0 0 1.1 -52L1.2 -55.2A55.2 55.2 0 0 1 37.8 -40.2Z"/><path class="o" d="M-1.1 -52A52 52 0 0 0 -35.6 -37.9L-37.8 -40.2A55.2 55.2 0 0 1 -1.2 -55.2Z"/><path class="o" d="M-37.9 -35.6A52 52 0 0 0 -52 -1.1L-55.2 -1.2A55.2 55.2 0 0 1 -40.2 -37.8Z"/><path class="o" d="M-52 1.1A52 52 0 0 0 -37.9 35.6L-40.2 37.8A55.2 55.2 0 0 1 -55.2 1.2Z"/><path class="o" d="M-35.6 37.9A52 52 0 0 0 -1.1 52L-1.2 55.2A55.2 55.2 0 0 1 -37.8 40.2Z"/><path class="o" d="M1.1 52A52 52 0 0 0 35.6 37.9L37.8 40.2A55.2 55.2 0 0 1 1.2 55.2Z"/><path class="o" d="M37.9 35.6A52 52 0 0 0 52 1.1L55.2 1.2A55.2 55.2 0 0 1 40.2 37.8Z"/><circle class="o" cx="71.5" cy="0" r="5"/><circle class="o" cx="50.6" cy="-50.6" r="5"/><circle class="o" cx="0" cy="-71.5" r="5"/><circle class="o" cx="-50.6" cy="-50.6" r="5"/><circle class="o" cx="-71.5" cy="0" r="5"/><circle class="o" cx="-50.6" cy="50.6" r="5"/><circle class="o" cx="0" cy="71.5" r="5"/><circle class="o" cx="50.6" cy="50.6" r="5"/><path class="o" d="M79.7 -9.8Q72 -14.7 67.6 -24.1L64.3 -22.1L62.1 -23.8L59.5 -22.4A63.6 63.6 0 0 1 63 -8.9Z"/><path class="o" d="M79.7 9.8Q72 14.7 67.6 24.1L64.3 22.1L62.1 23.8L59.5 22.4A63.6 63.6 0 0 0 63 8.9Z"/><path class="o" d="M49.4 -63.3Q40.6 -61.3 30.8 -64.9L29.8 -61.1L27 -60.8L26.3 -57.9A63.6 63.6 0 0 1 38.3 -50.8Z"/><path class="o" d="M63.3 -49.4Q61.3 -40.6 64.9 -30.8L61.1 -29.8L60.8 -27L57.9 -26.3A63.6 63.6 0 0 0 50.8 -38.3Z"/><path class="o" d="M-9.8 -79.7Q-14.7 -72 -24.1 -67.6L-22.1 -64.3L-23.8 -62.1L-22.4 -59.5A63.6 63.6 0 0 1 -8.9 -63Z"/><path class="o" d="M9.8 -79.7Q14.7 -72 24.1 -67.6L22.1 -64.3L23.8 -62.1L22.4 -59.5A63.6 63.6 0 0 0 8.9 -63Z"/><path class="o" d="M-63.3 -49.4Q-61.3 -40.6 -64.9 -30.8L-61.1 -29.8L-60.8 -27L-57.9 -26.3A63.6 63.6 0 0 1 -50.8 -38.3Z"/><path class="o" d="M-49.4 -63.3Q-40.6 -61.3 -30.8 -64.9L-29.8 -61.1L-27 -60.8L-26.3 -57.9A63.6 63.6 0 0 0 -38.3 -50.8Z"/><path class="o" d="M-79.7 9.8Q-72 14.7 -67.6 24.1L-64.3 22.1L-62.1 23.8L-59.5 22.4A63.6 63.6 0 0 1 -63 8.9Z"/><path class="o" d="M-79.7 -9.8Q-72 -14.7 -67.6 -24.1L-64.3 -22.1L-62.1 -23.8L-59.5 -22.4A63.6 63.6 0 0 0 -63 -8.9Z"/><path class="o" d="M-49.4 63.3Q-40.6 61.3 -30.8 64.9L-29.8 61.1L-27 60.8L-26.3 57.9A63.6 63.6 0 0 1 -38.3 50.8Z"/><path class="o" d="M-63.3 49.4Q-61.3 40.6 -64.9 30.8L-61.1 29.8L-60.8 27L-57.9 26.3A63.6 63.6 0 0 0 -50.8 38.3Z"/><path class="o" d="M9.8 79.7Q14.7 72 24.1 67.6L22.1 64.3L23.8 62.1L22.4 59.5A63.6 63.6 0 0 1 8.9 63Z"/><path class="o" d="M-9.8 79.7Q-14.7 72 -24.1 67.6L-22.1 64.3L-23.8 62.1L-22.4 59.5A63.6 63.6 0 0 0 -8.9 63Z"/><path class="o" d="M63.3 49.4Q61.3 40.6 64.9 30.8L61.1 29.8L60.8 27L57.9 26.3A63.6 63.6 0 0 1 50.8 38.3Z"/><path class="o" d="M49.4 63.3Q40.6 61.3 30.8 64.9L29.8 61.1L27 60.8L26.3 57.9A63.6 63.6 0 0 0 38.3 50.8Z"/><path class="o" d="M87.6 -8.6L87.6 8.6"/><path class="o" d="M87.6 -8.6L80.5 -9.3"/><path class="o" d="M87.6 -8.6Q82.4 -34.1 67.5 -55.7Q70.3 -31.3 80.5 -9.3"/><path class="o" d="M87.6 8.6L80.5 9.3"/><path class="o" d="M87.6 8.6Q82.4 34.1 67.5 55.7Q70.3 31.3 80.5 9.3"/><path class="o" d="M-8.6 -87.6L8.6 -87.6"/><path class="o" d="M-8.6 -87.6L-9.3 -80.5"/><path class="o" d="M-8.6 -87.6Q-34.1 -82.4 -55.7 -67.5Q-31.3 -70.3 -9.3 -80.5"/><path class="o" d="M8.6 -87.6L9.3 -80.5"/><path class="o" d="M8.6 -87.6Q34.1 -82.4 55.7 -67.5Q31.3 -70.3 9.3 -80.5"/><path class="o" d="M-87.6 8.6L-87.6 -8.6"/><path class="o" d="M-87.6 8.6L-80.5 9.3"/><path class="o" d="M-87.6 8.6Q-82.4 34.1 -67.5 55.7Q-70.3 31.3 -80.5 9.3"/><path class="o" d="M-87.6 -8.6L-80.5 -9.3"/><path class="o" d="M-87.6 -8.6Q-82.4 -34.1 -67.5 -55.7Q-70.3 -31.3 -80.5 -9.3"/><path class="o" d="M8.6 87.6L-8.6 87.6"/><path class="o" d="M8.6 87.6L9.3 80.5"/><path class="o" d="M8.6 87.6Q34.1 82.4 55.7 67.5Q31.3 70.3 9.3 80.5"/><path class="o" d="M-8.6 87.6L-9.3 80.5"/><path class="o" d="M-8.6 87.6Q-34.1 82.4 -55.7 67.5Q-31.3 70.3 -9.3 80.5"/><circle class="cs" cx="0" cy="0" r="71.5"/></g><path class="c" d="M145 1495.3H428"/><path class="c" d="M210.5 1563.3H396.5"/><path class="c" d="M303.5 1410V1660"/><path class="d" d="M152 1417H207.1"/><path class="a" d="M152 1417L158.5 1415.9L158.5 1418.1Z"/><path class="a" d="M207.1 1417L200.6 1418.1L200.6 1415.9Z"/><text class="dt" transform="translate(179.6 1413) scale(0.72 1)" font-size="14.5" text-anchor="middle">50</text><path class="d" d="M207.1 1417H303.5"/><path class="a" d="M207.1 1417L213.6 1415.9L213.6 1418.1Z"/><path class="a" d="M303.5 1417L297 1418.1L297 1415.9Z"/><text class="dt" transform="translate(255.3 1413) scale(0.72 1)" font-size="14.5" text-anchor="middle">108</text><path class="d" d="M152 1411V1482"/><path class="d" d="M207.1 1411V1478"/><path class="d" d="M119 1482.8H152"/><path class="d" d="M119 1507.7H152"/><path class="d" d="M123 1455V1530"/><path class="a" d="M123 1482.8L121.9 1476.3L124.1 1476.3Z"/><path class="a" d="M123 1507.7L124.1 1514.2L121.9 1514.2Z"/><text class="dt" transform="translate(118.5 1495.5) rotate(-90) scale(0.72 1)" font-size="14.5" text-anchor="middle">Φ24h7</text><text class="dt" transform="translate(167.5 1533.3) scale(0.72 1)" font-size="14.5" text-anchor="middle">M8</text><path class="d" d="M177.6 1537.4H147.6V1499"/><path class="d" d="M147 1491.5L151.8 1495.3L147 1499"/><rect x="138.2" y="1564.8" width="35.8" height="23" fill="#9c9c9c"/><text x="156.1" y="1583.3" font-size="19.5" text-anchor="middle" style="fill:#fff">KZ</text><rect class="w" x="578.5" y="1477.6" width="11.3" height="5.4"/><circle class="w" cx="584.2" cy="1497.1" r="15.6"/><circle class="o" cx="584.2" cy="1497.1" r="8.2"/><circle class="o" cx="584.2" cy="1497.1" r="3.3"/><path class="cs" d="M559 1497.1H610"/><path class="cs" d="M584.2 1468V1524"/><path class="d" d="M578.5 1432V1478"/><path class="d" d="M589.8 1432V1478"/><path class="d" d="M564.5 1435.7H603.8"/><path class="a" d="M578.5 1435.7L572 1436.8L572 1434.6Z"/><path class="a" d="M589.8 1435.7L596.3 1434.6L596.3 1436.8Z"/><text class="dt" transform="translate(584.2 1431.5) scale(0.72 1)" font-size="14.5" text-anchor="middle">8</text><path class="d" d="M520.5 1477.6H584"/><path class="d" d="M520.5 1512.4H584"/><path class="d" d="M524.9 1477.6V1512.4"/><path class="a" d="M524.9 1477.6L526 1484.1L523.8 1484.1Z"/><path class="a" d="M524.9 1512.4L523.8 1505.9L526 1505.9Z"/><text class="dt" transform="translate(520.5 1495) rotate(-90) scale(0.72 1)" font-size="14.5" text-anchor="middle">27</text><path class="o" d="M765.2 1541.9V1534.1H779.8V1541.9A21.8 21.8 0 1 1 765.2 1541.9"/><path class="cs" d="M744 1562.4H801"/><path class="cs" d="M772.5 1527V1590"/><path class="d" d="M765.2 1497V1534"/><path class="d" d="M779.8 1497V1534"/><path class="d" d="M765.2 1499.9H779.8"/><path class="a" d="M765.2 1499.9L771.7 1498.8L771.7 1501Z"/><path class="a" d="M779.8 1499.9L773.3 1501L773.3 1498.8Z"/><text class="dt" transform="translate(772.2 1496) scale(0.72 1)" font-size="14.5" text-anchor="middle">b</text><path class="d" d="M730 1534.1H772.5"/><path class="d" d="M730 1584.4H772.5"/><path class="d" d="M733.6 1534.1V1584.4"/><path class="a" d="M733.6 1534.1L734.7 1540.6L732.5 1540.6Z"/><path class="a" d="M733.6 1584.4L732.5 1577.9L734.7 1577.9Z"/><text class="dt" transform="translate(729.2 1559.2) rotate(-90) scale(0.72 1)" font-size="14.5" text-anchor="middle">t</text><clipPath id="hc1"><path d="M899.4 1534.3V1528.4L900.6 1527.2H953.2V1523.4L954.4 1522.2H973.8V1479.2C982 1478 990 1484 1001 1488.5L1010 1488.9V1522.2H1027.5L1029.3 1523.4V1527.2H1084.4L1085.6 1528.4V1534.3H1018V1538.8H965.9V1534.3Z"/></clipPath><g clip-path="url(#hc1)"><path class="d" d="M830 1540L895 1475M835.4 1540L900.4 1475M840.8 1540L905.8 1475M846.2 1540L911.2 1475M851.6 1540L916.6 1475M857 1540L922 1475M862.4 1540L927.4 1475M867.8 1540L932.8 1475M873.2 1540L938.2 1475M878.6 1540L943.6 1475M884 1540L949 1475M889.4 1540L954.4 1475M894.8 1540L959.8 1475M900.2 1540L965.2 1475M905.6 1540L970.6 1475M911 1540L976 1475M916.4 1540L981.4 1475M921.8 1540L986.8 1475M927.2 1540L992.2 1475M932.6 1540L997.6 1475M938 1540L1003 1475M943.4 1540L1008.4 1475M948.8 1540L1013.8 1475M954.2 1540L1019.2 1475M959.6 1540L1024.6 1475M965 1540L1030 1475M970.4 1540L1035.4 1475M975.8 1540L1040.8 1475M981.2 1540L1046.2 1475M986.6 1540L1051.6 1475M992 1540L1057 1475M997.4 1540L1062.4 1475M1002.8 1540L1067.8 1475M1008.2 1540L1073.2 1475M1013.6 1540L1078.6 1475M1019 1540L1084 1475M1024.4 1540L1089.4 1475M1029.8 1540L1094.8 1475M1035.2 1540L1100.2 1475M1040.6 1540L1105.6 1475M1046 1540L1111 1475M1051.4 1540L1116.4 1475M1056.8 1540L1121.8 1475M1062.2 1540L1127.2 1475M1067.6 1540L1132.6 1475M1073 1540L1138 1475M1078.4 1540L1143.4 1475M1083.8 1540L1148.8 1475M1089.2 1540L1154.2 1475"/></g><clipPath id="hc2"><path d="M899.4 1585.1V1597.5L900.6 1598.7H953.2V1602.5L954.4 1603.7H973.8V1650C980 1649.5 986 1646 993 1642L1010 1640.2V1603.7H1017.4L1018.6 1602.5H1027.5L1029.3 1601.2V1598.7H1084.4L1085.6 1597.5V1585.1H1018V1586.4H965.9V1585.1Z"/></clipPath><g clip-path="url(#hc2)"><path class="d" d="M826 1652L895 1583M831.4 1652L900.4 1583M836.8 1652L905.8 1583M842.2 1652L911.2 1583M847.6 1652L916.6 1583M853 1652L922 1583M858.4 1652L927.4 1583M863.8 1652L932.8 1583M869.2 1652L938.2 1583M874.6 1652L943.6 1583M880 1652L949 1583M885.4 1652L954.4 1583M890.8 1652L959.8 1583M896.2 1652L965.2 1583M901.6 1652L970.6 1583M907 1652L976 1583M912.4 1652L981.4 1583M917.8 1652L986.8 1583M923.2 1652L992.2 1583M928.6 1652L997.6 1583M934 1652L1003 1583M939.4 1652L1008.4 1583M944.8 1652L1013.8 1583M950.2 1652L1019.2 1583M955.6 1652L1024.6 1583M961 1652L1030 1583M966.4 1652L1035.4 1583M971.8 1652L1040.8 1583M977.2 1652L1046.2 1583M982.6 1652L1051.6 1583M988 1652L1057 1583M993.4 1652L1062.4 1583M998.8 1652L1067.8 1583M1004.2 1652L1073.2 1583M1009.6 1652L1078.6 1583M1015 1652L1084 1583M1020.4 1652L1089.4 1583M1025.8 1652L1094.8 1583M1031.2 1652L1100.2 1583M1036.6 1652L1105.6 1583M1042 1652L1111 1583M1047.4 1652L1116.4 1583M1052.8 1652L1121.8 1583M1058.2 1652L1127.2 1583M1063.6 1652L1132.6 1583M1069 1652L1138 1583M1074.4 1652L1143.4 1583M1079.8 1652L1148.8 1583M1085.2 1652L1154.2 1583"/></g><path class="o" d="M899.4 1534.3V1528.4L900.6 1527.2H953.2V1523.4L954.4 1522.2H973.8V1479.2C982 1478 990 1484 1001 1488.5L1010 1488.9V1522.2H1027.5L1029.3 1523.4V1527.2H1084.4L1085.6 1528.4V1534.3H1018V1538.8H965.9V1534.3Z"/><path class="o" d="M899.4 1585.1V1597.5L900.6 1598.7H953.2V1602.5L954.4 1603.7H973.8V1650C980 1649.5 986 1646 993 1642L1010 1640.2V1603.7H1017.4L1018.6 1602.5H1027.5L1029.3 1601.2V1598.7H1084.4L1085.6 1597.5V1585.1H1018V1586.4H965.9V1585.1Z"/><path class="o" d="M899.4 1534.3V1585.1M1085.6 1534.3V1585.1"/><path class="t" d="M901.2 1540.5V1584M1083.8 1540.5V1584"/><path class="o" d="M899.4 1539.7H965.9M1018 1539.7H1085.6"/><path class="o" d="M965.9 1534.3V1586.4M1018 1534.3V1586.4"/><path class="c" d="M894 1562.4H1097"/><path class="d" d="M899.4 1447V1527"/><path class="d" d="M1085.6 1447V1527"/><path class="d" d="M899.4 1452H1085.6"/><path class="a" d="M899.4 1452L905.9 1450.9L905.9 1453.1Z"/><path class="a" d="M1085.6 1452L1079.1 1453.1L1079.1 1450.9Z"/><text class="dt" transform="translate(991.5 1448.3) scale(0.72 1)" font-size="14.5" text-anchor="middle">140</text><path class="d" d="M899.4 1480.7H965.9"/><path class="a" d="M899.4 1480.7L905.9 1479.6L905.9 1481.8Z"/><path class="a" d="M965.9 1480.7L959.4 1481.8L959.4 1479.6Z"/><text class="dt" transform="translate(932.3 1476.8) scale(0.72 1)" font-size="14.5" text-anchor="middle">45</text><path class="d" d="M1018 1480.7H1085.6"/><path class="a" d="M1018 1480.7L1024.5 1479.6L1024.5 1481.8Z"/><path class="a" d="M1085.6 1480.7L1079.1 1481.8L1079.1 1479.6Z"/><text class="dt" transform="translate(1051 1476.8) scale(0.72 1)" font-size="14.5" text-anchor="middle">45</text><path class="d" d="M965.9 1476V1539"/><path class="d" d="M1018 1476V1539"/><path class="d" d="M877.4 1584.6H899.4"/><path class="d" d="M881.5 1564V1584.6"/><path class="a" d="M881.5 1584.6L880.4 1578.1L882.6 1578.1Z"/><text class="dt" transform="translate(876 1571) rotate(-90) scale(0.72 1)" font-size="14.5" text-anchor="middle">D</text>
<path d="M94.3 1688.3H1215.8" stroke="#7d7d7d" stroke-width="1.3" fill="none"/>
<text y="1716" font-size="20.8"><tspan x="94.3">29</tspan><tspan x="127.6">/</tspan><tspan x="143.3">GPG MOTOR</tspan><tspan x="276.8" font-size="17.5">台邦电机</tspan></text>
</svg></body></html>
